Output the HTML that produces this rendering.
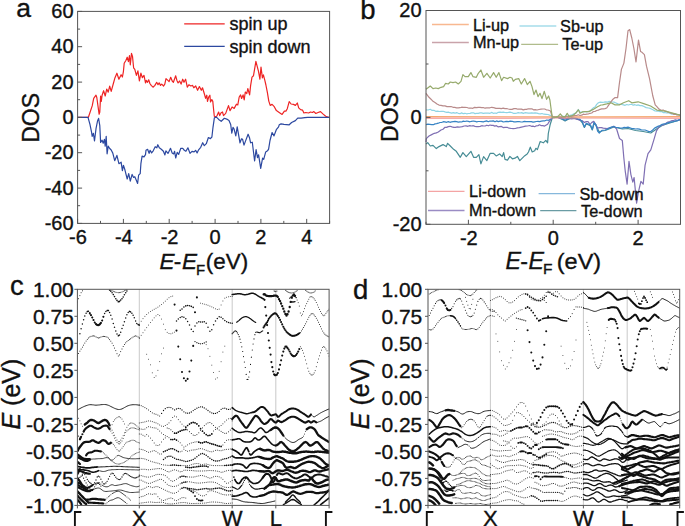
<!DOCTYPE html>
<html><head><meta charset="utf-8"><style>
html,body{margin:0;padding:0;background:#fff;}
svg{display:block;}
text{font-family:"Liberation Sans",sans-serif;fill:#111;stroke:#111;stroke-width:0.35px;}
</style></head><body>
<svg width="685" height="526" viewBox="0 0 685 526">
<defs><clipPath id="clipc"><rect x="77.4" y="289.3" width="251.7" height="216.1"/></clipPath><clipPath id="clipd"><rect x="428.0" y="289.3" width="251.7" height="216.1"/></clipPath></defs>
<rect width="685" height="526" fill="#fff"/>
<path d="M77.6 117.3 L88.4 117.3 L92.2 105.9 L93.7 98.3 L96 95.2 L96.8 97.5 L99.1 114.2 L99.8 112 L100.6 96 L101.3 101.3 L102.1 95.2 L103.6 90.7 L105.2 96 L106.7 89.1 L108.2 92.2 L109.7 86.1 L111.2 91.4 L113.5 83 L115 77.7 L116.9 73.2 L118.9 79.2 L121.1 74.7 L122.4 77 L123.4 71.6 L124.2 63.3 L126 60.2 L127.2 57.2 L128.4 61.7 L129.5 55.7 L130.3 64.8 L131.5 53.4 L132.5 56.4 L133.6 67.8 L134.8 69.3 L136.4 75.4 L137.9 70.9 L139.4 80.8 L140.9 73.2 L142.4 77.7 L144 75.4 L145.5 83 L146.2 80.4 L147.5 82.3 L148.7 79.8 L149.9 83.5 L151.2 85.4 L153 87.2 L154.9 85.4 L156.7 82.3 L158 84.7 L159.2 82.9 L160.5 85.4 L161.7 84.1 L163.6 86 L164.8 84.1 L166 78.6 L167.9 80.4 L169.1 81.6 L170.7 77.3 L172.2 81 L173.4 82.3 L175.7 75.8 L176.9 80.4 L178.1 82.9 L179.6 81 L181.1 84.1 L182.7 79.2 L184 82.3 L185.6 79.2 L187.3 87.2 L188.9 84.7 L190.8 86 L192.6 85.4 L193.8 87.8 L195.7 86 L197.6 90.3 L199.4 86.6 L201.3 90.3 L202.5 87.8 L204.4 94 L205.6 98.3 L206.8 95.2 L207.5 101.4 L208.7 97.1 L209.9 95.2 L210.5 102 L211.8 99.6 L212.8 101.4 L213.6 109.5 L214.3 116.3 L215.7 117 L217.1 115.6 L218.6 112 L219.7 115.6 L221.1 112.7 L222.5 112 L223.5 115.6 L225.7 113.4 L228.5 105.6 L230 110.6 L232.1 107 L234.2 108.4 L236.4 104.2 L237.8 104.9 L239.2 97 L240.6 94.9 L241.6 98.5 L243.1 94.9 L244.2 99.9 L245.3 92 L246.8 93.5 L247.8 88.5 L249.6 94.9 L250.6 85.6 L252 77.1 L253.5 75.7 L255.9 61.4 L257 65.7 L258.5 71.4 L259.9 79.2 L261 67.1 L262.4 77.8 L263.4 74.9 L264.9 80.6 L265.9 85 L267.4 92.6 L268.8 101.1 L270.2 105.4 L272.1 104.4 L274 106.3 L276.4 110.6 L279.2 112.5 L282.1 114.4 L284.4 111.1 L285.9 111.1 L287.3 108.7 L289.2 101.6 L291.1 104 L293.5 104.4 L295.4 105.4 L297.3 103 L298.7 107.8 L300.6 109.7 L302.5 110.1 L303.9 113 L305.8 112.5 L308.6 113 L310.5 112 L312.4 112.5 L313.9 111.6 L315.8 113.5 L318.1 112.5 L320.5 111.6 L322.9 113.9 L325.7 116.3 L328.6 117.3 L329.6 117.3" fill="none" stroke="#ee2424" stroke-width="1.2" stroke-linejoin="round"/>
<path d="M77.6 117.3 L88 117.3 L89.9 124.2 L91.5 131.8 L92.2 136.3 L93.4 133.3 L94.5 140.9 L96 128.7 L97.5 121.1 L98.6 118.4 L99.8 125.7 L100.6 142.4 L102.1 140.2 L103.2 143.2 L104.4 139.4 L105.2 146.2 L106.2 136.3 L107.1 153.8 L108.2 146.2 L109.7 148.5 L111.2 150 L112.8 153.1 L114.7 160.7 L116.9 155.4 L118.9 163.7 L121.1 162.2 L122.4 170.6 L123.4 165.3 L124.9 169.8 L127.2 179 L128.7 173.6 L130.3 181.2 L132.1 174.4 L133.6 177.4 L134.8 176.7 L136.4 180.5 L137.6 183.5 L138.6 175.2 L140.2 173.6 L140.9 163.7 L142.1 156.1 L144 156.9 L145.5 154.6 L146 150.3 L147.6 149.3 L149.1 153.4 L150.1 150.3 L151.6 152.9 L153.2 150.8 L155.2 146.7 L156.8 147.8 L157.8 144.7 L159.3 147.8 L161.3 149.3 L163.4 151.3 L164.9 154.9 L165.9 150.8 L168 153.4 L170.5 148.3 L172.1 152.9 L173.6 153.9 L174.6 151.3 L175.7 158 L177.2 152.4 L178.7 154.4 L180.8 148.3 L182.8 148.3 L184.3 150.3 L185.9 151.3 L187.9 147.8 L190 153.4 L192 151.3 L194.1 151.9 L195.6 150.3 L197.1 152.9 L198.6 149.8 L200.7 147.3 L202.7 142.7 L204.3 145.7 L206.3 143.7 L208.4 137.5 L210.4 138.6 L211.9 137 L213 127.3 L214.4 117.7 L216.4 117.1 L218.7 119.4 L221.2 121.3 L224.4 118.3 L226.7 119.1 L229 120.6 L230.7 124.5 L231.8 133.1 L233 127.4 L234.1 129.1 L235.8 135.9 L237.2 126.8 L238.3 133.1 L240 142.8 L241.5 138.8 L242.6 139.4 L244 145.1 L245.5 141.1 L248.1 134.2 L249.5 137.7 L250.6 142.8 L252.3 142.2 L254.6 161 L256.1 149.6 L257.5 157.6 L258.6 154.8 L260.7 168.4 L262.6 158.2 L263.7 159.3 L265.7 151.9 L267.5 150.8 L268.6 149.1 L270 140.5 L272.1 132.5 L274 135.9 L276.3 129.7 L278.6 126.8 L279.2 124.8 L281.1 123.9 L284 124.4 L289.2 124.8 L291.6 122.5 L295.4 120.6 L297.7 118.2 L301.1 118.2 L304.8 117.7 L307.7 117.3 L329.6 117.3" fill="none" stroke="#2c48a0" stroke-width="1.2" stroke-linejoin="round"/>
<rect x="77.6" y="11.4" width="252" height="212" fill="none" stroke="#555" stroke-width="1"/>
<line x1="77.6" y1="223.4" x2="82.1" y2="223.4" stroke="#555"/>
<line x1="77.6" y1="205.7" x2="80.1" y2="205.7" stroke="#555"/>
<line x1="77.6" y1="188.1" x2="82.1" y2="188.1" stroke="#555"/>
<line x1="77.6" y1="170.4" x2="80.1" y2="170.4" stroke="#555"/>
<line x1="77.6" y1="152.7" x2="82.1" y2="152.7" stroke="#555"/>
<line x1="77.6" y1="135.1" x2="80.1" y2="135.1" stroke="#555"/>
<line x1="77.6" y1="117.4" x2="82.1" y2="117.4" stroke="#555"/>
<line x1="77.6" y1="99.7" x2="80.1" y2="99.7" stroke="#555"/>
<line x1="77.6" y1="82.1" x2="82.1" y2="82.1" stroke="#555"/>
<line x1="77.6" y1="64.4" x2="80.1" y2="64.4" stroke="#555"/>
<line x1="77.6" y1="46.7" x2="82.1" y2="46.7" stroke="#555"/>
<line x1="77.6" y1="29.1" x2="80.1" y2="29.1" stroke="#555"/>
<line x1="77.6" y1="11.4" x2="82.1" y2="11.4" stroke="#555"/>
<line x1="77.6" y1="223.4" x2="77.6" y2="218.9" stroke="#555"/>
<line x1="100.5" y1="223.4" x2="100.5" y2="220.9" stroke="#555"/>
<line x1="123.4" y1="223.4" x2="123.4" y2="218.9" stroke="#555"/>
<line x1="146.3" y1="223.4" x2="146.3" y2="220.9" stroke="#555"/>
<line x1="169.2" y1="223.4" x2="169.2" y2="218.9" stroke="#555"/>
<line x1="192.1" y1="223.4" x2="192.1" y2="220.9" stroke="#555"/>
<line x1="215.1" y1="223.4" x2="215.1" y2="218.9" stroke="#555"/>
<line x1="238" y1="223.4" x2="238" y2="220.9" stroke="#555"/>
<line x1="260.9" y1="223.4" x2="260.9" y2="218.9" stroke="#555"/>
<line x1="283.8" y1="223.4" x2="283.8" y2="220.9" stroke="#555"/>
<line x1="306.7" y1="223.4" x2="306.7" y2="218.9" stroke="#555"/>
<line x1="329.6" y1="223.4" x2="329.6" y2="220.9" stroke="#555"/>
<text x="73.6" y="229.8" font-size="20" text-anchor="end" >-60</text>
<text x="73.6" y="194.5" font-size="20" text-anchor="end" >-40</text>
<text x="73.6" y="159.1" font-size="20" text-anchor="end" >-20</text>
<text x="73.6" y="123.8" font-size="20" text-anchor="end" >0</text>
<text x="73.6" y="88.5" font-size="20" text-anchor="end" >20</text>
<text x="73.6" y="53.1" font-size="20" text-anchor="end" >40</text>
<text x="73.6" y="17.8" font-size="20" text-anchor="end" >60</text>
<text x="78" y="244.2" font-size="20" text-anchor="middle" >-6</text>
<text x="123.8" y="244.2" font-size="20" text-anchor="middle" >-4</text>
<text x="169.6" y="244.2" font-size="20" text-anchor="middle" >-2</text>
<text x="215.1" y="244.2" font-size="20" text-anchor="middle" >0</text>
<text x="260.9" y="244.2" font-size="20" text-anchor="middle" >2</text>
<text x="306.7" y="244.2" font-size="20" text-anchor="middle" >4</text>
<text x="16.2" y="17.3" font-size="26.5" text-anchor="start" >a</text>
<text transform="translate(39.1,117.9) rotate(-90)" font-size="23" text-anchor="middle">DOS</text>
<text y="269" font-size="22.5"><tspan x="159.4" font-style="italic">E</tspan><tspan x="173.8">-</tspan><tspan x="182" font-style="italic">E</tspan></text><text x="196" y="274.5" font-size="15">F</text><text x="205.8" y="268.8" font-size="22" textLength="42.3" lengthAdjust="spacingAndGlyphs">(eV)</text>
<line x1="184.2" y1="23.9" x2="224.7" y2="23.9" stroke="#ee2424" stroke-width="1.2"/>
<line x1="184.2" y1="46.3" x2="224.7" y2="46.3" stroke="#2c48a0" stroke-width="1.2"/>
<text x="229.5" y="30.4" font-size="18" text-anchor="start" >spin up</text>
<text x="229.5" y="52.5" font-size="18" text-anchor="start" >spin down</text>
<path d="M426 144 L427.7 142.6 L430.3 146 L433 145.3 L436.3 148.6 L439 146.6 L443 144.6 L446.3 146.6 L447.6 143.3 L450.3 146 L453.6 149.3 L456.3 151.3 L460.3 157.3 L462.9 152.6 L466.3 156.6 L470.9 151.3 L473.6 157.3 L476.3 157.3 L478.9 154.6 L480.9 163.9 L483.6 156.6 L486.9 160.6 L490.2 153.3 L493.6 153.3 L496.2 155.9 L499.6 153.9 L502.2 156.6 L503.6 152.6 L505 159.4 L507.5 160.1 L509.9 156.4 L512.4 158.8 L514.9 158.2 L517.4 156.4 L519.8 160.7 L522.3 158.2 L524.8 155.7 L527.2 153.9 L528.5 152 L530.3 147.1 L532.2 152 L534.7 150.8 L535.9 148.3 L537.4 149.6 L540.2 141.5 L543.3 142.8 L545.8 140.3 L547.6 142.8 L548.3 133.5 L550.1 124.8 L552 118.7 L552.9 117.3 L558.1 117.5 L562.5 119.5 L565.1 121 L567.8 119.5 L571.3 118 L575.6 118.5 L580 120 L582.2 122.5 L584.4 127.5 L586.2 124 L588.8 125 L590.5 126 L592.3 130 L594 123.5 L595.8 125 L599.3 132 L601.9 131 L605 130.5 L609 129 L613.8 127 L618 128 L622.3 129 L628 128.5 L635.6 130.5 L643.2 131.5 L650.8 133 L656.5 129 L662.2 125.5 L669.8 123 L680.5 119.8" fill="none" stroke="#468c95" stroke-width="1.2" stroke-linejoin="round"/>
<path d="M426 142 L426.3 138.6 L429 136 L431.7 134.6 L434.3 133.3 L436.3 132.9 L438.3 132 L441 130 L443 129.2 L445 127.3 L446.6 127.4 L448.3 126.6 L450.1 126.3 L452 126.9 L453.8 127.4 L455.6 127.3 L457.3 126.9 L459 127.1 L460.6 126.9 L462.3 126.6 L464.2 126 L466 125.9 L467.9 126.3 L469.7 125.6 L471.6 126 L473.3 125.7 L475 126.4 L476.6 126.7 L478.3 126.6 L480.1 126.4 L481.8 125.7 L483.6 126 L485.2 126 L486.8 125.2 L488.4 125.8 L490 125 L491.6 125.3 L493.2 125.4 L494.8 126.1 L496.4 125.7 L498 126.8 L499.6 126.6 L501.4 126.4 L503.2 127.6 L505 127.3 L507.1 127.3 L509.1 128.2 L511.2 128.5 L513.3 128.6 L515.3 128.5 L517.4 127.9 L519.4 127.7 L521.5 127.1 L523.5 126.7 L525.6 126.1 L527.6 126 L529.7 125.5 L531.4 126.3 L533 126.1 L534.7 126.7 L536.3 125.8 L538 125.6 L539.6 124.8 L541.3 125.7 L542.9 125.7 L544.6 126.1 L547.6 124.2 L549.5 121.1 L552.6 117.4 L554.4 117.7 L556.2 117.1 L558 117.5 L559.8 118 L561.5 118 L563.3 118.5 L564.9 118.8 L566.6 118.5 L568.2 118.2 L569.9 118.6 L571.6 118.8 L573.2 118.6 L574.9 118.6 L576.6 119.2 L578.4 119.6 L580.1 120.4 L581.9 120.5 L584.4 122.5 L586.2 121.6 L588 121.5 L590 124.3 L591.9 122.4 L593.8 121.4 L595.7 124.5 L597.6 128.1 L599.5 127.7 L601.4 127.7 L603.3 128.1 L605.2 128.3 L607.1 128.6 L609 128.1 L611.4 127.3 L613.8 126.2 L616.6 129 L619.5 138.5 L622.3 140.4 L623.8 157.5 L625.2 170.8 L627.1 184.1 L629 161.3 L630.9 174.6 L632.8 182.2 L634.1 177.5 L636.6 203.1 L638.5 191.7 L640.9 181.3 L643.2 184.1 L645.1 165.1 L648 153.7 L650.8 149.9 L653.7 140.4 L656.5 130.9 L659.4 126.2 L661 125.4 L662.7 125.1 L664.4 124.5 L666 123.3 L667.9 122.1 L669.8 121.5 L671.7 120.7 L673.6 120.5 L675.3 119.8 L677 120.4 L678.8 120.2 L680.5 119.5" fill="none" stroke="#7f6fb3" stroke-width="1.2" stroke-linejoin="round"/>
<path d="M426 124.6 L427.9 124.2 L429.8 124.4 L431.7 124.6 L433.4 124.7 L435 123.9 L436.6 123.7 L438.3 123.2 L440 122.5 L441.6 122.5 L443.3 121.7 L445 121.9 L446.6 122.3 L448.3 121.6 L450 122.3 L451.6 121.9 L453.3 121.6 L455 121.4 L456.6 121.7 L458.3 122.2 L460 121.9 L461.6 122 L463.3 121.1 L465 121.5 L466.7 121 L468.3 121.4 L470 121.8 L471.6 121.3 L473.3 121 L475 121.3 L476.6 121.9 L478.3 121.5 L480 121.5 L481.6 121.7 L483.3 121.9 L485 121.3 L486.6 120.9 L488.3 121.7 L489.9 121 L491.6 121.2 L493.3 120.9 L495 121.8 L496.6 120.9 L498.3 121.6 L500 121.2 L501.6 121.1 L503.3 122 L505 121.7 L506.8 121.3 L508.5 121.6 L510.3 121.2 L512.1 121.3 L513.9 121.9 L515.6 121.9 L517.4 121.7 L519.2 121.5 L520.9 122 L522.7 121.8 L524.4 121.3 L526.2 121.6 L527.9 121.5 L529.7 121.7 L531.4 121.6 L533 122.1 L534.7 121.8 L536.3 121.5 L538 121.4 L539.6 121.7 L541.4 121.2 L543.2 120.8 L545 120.8 L546.8 120 L548.5 120.3 L550.5 119.2 L552.4 117.7 L554.3 117.3 L556.2 117.1 L558.1 117.3 L560.3 118.5 L562.5 119 L565.1 120.3 L567.8 119 L569.5 118.4 L571.3 117.7 L573.5 118.1 L575.6 118.1 L577.8 118.9 L580 119.4 L582.2 121.6 L584.4 126.9 L586.2 123.4 L588.8 124.3 L590.5 125.1 L592.3 129.5 L594 122.5 L595.8 124.3 L597.6 131 L599.3 133 L601.9 130.4 L605 130 L607 129.5 L609 128.1 L611.4 127.1 L613.8 126.5 L615.9 127.5 L618 127.5 L620.1 128 L622.3 128.1 L624.2 127.4 L626.1 127.6 L628 127.1 L629.9 127.8 L631.8 128.6 L633.7 128.7 L635.6 129 L637.5 128.9 L639.4 129.1 L641.3 129.9 L643.2 130 L645.1 130 L647 130.7 L648.9 131.6 L650.8 131.5 L652.7 130 L654.6 128.1 L656.5 127.1 L658.4 126.1 L660.3 125.6 L662.2 124.3 L664.1 123.9 L666 123.6 L667.9 122.8 L669.8 122.4 L671.6 121.9 L673.4 121.6 L675.1 121.1 L676.9 120.9 L678.7 119.9 L680.5 119.5" fill="none" stroke="#3783c4" stroke-width="1.2" stroke-linejoin="round"/>
<path d="M426 118.2 L552 118 L600 118 L680.5 118.2" fill="none" stroke="#f29090" stroke-width="1.2" stroke-linejoin="round"/>
<path d="M426 109.9 L428.1 110 L430.3 109.3 L432.1 110.4 L433.9 110.3 L435.7 111.3 L437.6 111.2 L439.4 111.5 L441.3 111.3 L443.1 111.3 L445 111.9 L446.7 112.3 L448.3 112.1 L450 112.7 L451.6 113.1 L453.3 112.7 L455 113.2 L456.6 112.6 L458.3 113.3 L460 113.7 L461.6 112.9 L463.3 113.7 L465 113.3 L466.6 113.8 L468.3 113.5 L470 113.3 L471.6 112.9 L473.3 112.8 L475 113.6 L476.6 113.4 L478.3 113.3 L480 112.9 L481.6 112.9 L483.3 113.3 L485 113.1 L486.6 113.1 L488.3 113.1 L490 113.3 L491.6 112.4 L493.3 113.3 L495 113 L496.7 113.3 L498.3 112.3 L500 112.1 L501.7 112.4 L503.3 112.2 L505 112.5 L506.7 112.6 L508.3 112.4 L510 112.1 L511.7 112.5 L513.3 113.3 L515 113.3 L516.7 113.1 L518.3 112.7 L520 113 L521.7 112.6 L523.3 113.4 L525 112.7 L526.7 112.9 L528.3 113.2 L530 113.2 L531.7 112.9 L533.4 113.2 L535.1 112.9 L536.9 113.2 L538.6 113.7 L540.3 113.9 L542 113.5 L544 114.2 L546 114.3 L548 114.5 L550.7 115.6 L552.6 117.3 L554.5 117.6 L556.3 116.5 L558.1 116.3 L560 116.5 L562 116.1 L564 116.5 L566 116 L568 116 L570 115.3 L572 114.8 L574 113.7 L576 112.8 L578.3 109.5 L580.5 112.5 L582.8 111.9 L585 111.5 L586.7 111.9 L588.3 111.4 L590 111.2 L591.7 109.5 L593.3 107.9 L595 107 L596.7 104.4 L598.4 102.8 L600.3 102.1 L602.1 102.3 L604 102.2 L605.7 101.9 L607.5 102.2 L609.2 101.4 L610.9 101.8 L612.6 102 L614.3 102.2 L616 103 L617.9 103.9 L619.8 104.3 L621.6 104.5 L623.5 104.9 L625.1 105.3 L626.8 104.5 L628.4 105 L630 104.5 L631.6 104.3 L633.2 105.2 L634.9 104.7 L636.5 105.3 L638.1 104.9 L640.1 105.6 L642 105.6 L644 106.5 L646.2 107.6 L648.5 108 L650.2 108.4 L651.9 109.2 L653.5 110.1 L655.2 111 L656.9 111.2 L658.5 111.1 L660.1 111.6 L661.8 111.6 L663.4 112.7 L665 112.5 L666.6 113 L668.2 112.6 L669.8 113.2 L671.4 114.1 L673 114 L674.9 113.7 L676.8 114.6 L678.6 114.7 L680.5 115" fill="none" stroke="#8ed4e4" stroke-width="1.2" stroke-linejoin="round"/>
<path d="M426 116.6 L552 116.8 L600 116.8 L680.5 116.6" fill="none" stroke="#f6a870" stroke-width="1.2" stroke-linejoin="round"/>
<path d="M426 93.3 L429 97.3 L431 99.2 L433 101.3 L435 102.5 L437 103.9 L439 105.1 L441 105.3 L443 105.8 L445 105.9 L447 106.6 L449 106.6 L451 106.5 L453 107.3 L454.8 107.4 L456.5 107.8 L458.3 107.9 L460 107.7 L461.6 107.2 L463.3 107.4 L465 107.3 L467 107.5 L469 108.2 L471 108 L472.8 108.3 L474.6 107.4 L476.5 107.7 L478.3 107.3 L480 107.3 L481.6 107.6 L483.3 107.5 L485 108.2 L486.6 107.8 L488.3 107.9 L490 107.8 L491.6 107.3 L493.7 107.7 L495.9 108.3 L498 108.3 L499.7 108.3 L501.4 108.7 L503.2 108.2 L504.9 108.6 L506.6 108.5 L508.3 109 L510 109.3 L512 109.4 L514 108.6 L516 108.6 L517.8 109.2 L519.6 109.1 L521.5 109.1 L523.3 109.9 L525 109.4 L526.6 109.4 L528.3 108.8 L530 108.8 L531.8 108.8 L533.5 109.8 L535.2 109.7 L537 110 L539 109.5 L541 109.2 L543 109 L544.7 109 L546.3 109.8 L548 110 L550.5 111 L552.3 117.2 L554.1 117.2 L556 117.5 L557.8 117.4 L559.6 117 L561.4 117.3 L563.2 116.8 L565 117.2 L566.7 116.5 L568.3 116.8 L570 116.4 L571.7 116.1 L573.3 115.8 L575 115.5 L576.7 115.5 L578.3 114.8 L580 115.5 L581.7 115.2 L583.3 114.2 L585 114.5 L586.7 114.1 L588.3 114 L590 113.3 L591.7 113 L593.4 111.5 L595 111.5 L596.7 110.5 L598.4 110.1 L600.1 109.3 L601.7 108.9 L603.4 108.9 L605 108.6 L606.7 108 L608.8 104.9 L610.9 101.8 L613 99.2 L615.1 97.6 L617.6 97.6 L619.3 84 L621.4 69.4 L623.9 63.1 L626 48.5 L628 30.7 L629.7 29.6 L631.8 38 L633.9 48.5 L636 62 L638.5 40.1 L640.6 51.6 L642.3 52.6 L644.4 54.7 L646.5 66.2 L649.6 78.8 L652.7 95.5 L655.2 104.9 L657.1 106.9 L659 109.1 L661.1 110.3 L663.2 110 L665.3 111.2 L667 111.7 L668.6 112.3 L670.3 113 L671.9 113.3 L673.6 114.3 L675.3 114.1 L677 114.9 L678.8 114.9 L680.5 115.4" fill="none" stroke="#b88a8a" stroke-width="1.2" stroke-linejoin="round"/>
<path d="M426 89.3 L427.7 88 L430.3 86 L433 88.6 L435.7 88 L438.3 88.6 L441 87.3 L443.6 86.6 L445.6 83.3 L448.3 84 L450.3 82 L453 82.6 L455.6 82 L458.3 84 L461 81.3 L462.9 74.6 L465 76.6 L468.3 76.6 L470.9 72.6 L472.9 76.6 L476.3 77.3 L478.3 73.3 L480.9 70 L483.6 77.3 L486.9 73.3 L490.2 78 L493.6 72.6 L496.2 77.3 L498.9 72.6 L501.6 80.6 L503.6 77.3 L507.5 78.6 L510 77.3 L512 78 L513.3 81.3 L515.3 79.3 L518.7 78.6 L521.3 84 L524.6 78.6 L527.3 84.6 L530 81.3 L532 86.6 L534 94.6 L536 90 L538 96.6 L540 93.3 L542 98.6 L544.3 91.3 L546.6 99.3 L548.6 96 L549.9 100 L551.3 110.6 L552.3 117.2 L555.3 117.2 L558.1 116.4 L560.3 113.8 L562.6 116.6 L565.3 116.6 L567.2 113.3 L569.2 116.6 L573.2 115.3 L575.6 113.3 L578.3 109.8 L580 113.3 L582.6 111.9 L584.4 111.6 L588.8 111.6 L593.2 109.4 L597.5 106.8 L601 105 L602.5 104.9 L606.7 103.9 L610.9 102.8 L615.1 104.9 L619.3 104.9 L623.5 102.8 L628.7 100.7 L631.8 102.8 L638.1 101.8 L644.4 103.9 L650.6 106 L656.9 110.1 L665.3 111.2 L673.6 113.3 L680.5 115.4" fill="none" stroke="#96aa6c" stroke-width="1.2" stroke-linejoin="round"/>
<rect x="426.0" y="10.5" width="254.5" height="213.8" fill="none" stroke="#555" stroke-width="1"/>
<line x1="426.0" y1="224.3" x2="430.5" y2="224.3" stroke="#555"/>
<line x1="426.0" y1="170.8" x2="428.5" y2="170.8" stroke="#555"/>
<line x1="426.0" y1="117.4" x2="430.5" y2="117.4" stroke="#555"/>
<line x1="426.0" y1="64" x2="428.5" y2="64" stroke="#555"/>
<line x1="426.0" y1="10.5" x2="430.5" y2="10.5" stroke="#555"/>
<line x1="426" y1="224.3" x2="426" y2="221.8" stroke="#555"/>
<line x1="468.4" y1="224.3" x2="468.4" y2="219.8" stroke="#555"/>
<line x1="510.8" y1="224.3" x2="510.8" y2="221.8" stroke="#555"/>
<line x1="553.2" y1="224.3" x2="553.2" y2="219.8" stroke="#555"/>
<line x1="595.7" y1="224.3" x2="595.7" y2="221.8" stroke="#555"/>
<line x1="638.1" y1="224.3" x2="638.1" y2="219.8" stroke="#555"/>
<line x1="680.5" y1="224.3" x2="680.5" y2="221.8" stroke="#555"/>
<text x="421.6" y="16.8" font-size="20" text-anchor="end" >20</text>
<text x="421.6" y="123.7" font-size="20" text-anchor="end" >0</text>
<text x="421.6" y="230.6" font-size="20" text-anchor="end" >-20</text>
<text x="468.8" y="244.5" font-size="20" text-anchor="middle" >-2</text>
<text x="553.2" y="244.5" font-size="20" text-anchor="middle" >0</text>
<text x="638.1" y="244.5" font-size="20" text-anchor="middle" >2</text>
<text x="360.3" y="18.8" font-size="27.5" text-anchor="start" >b</text>
<text transform="translate(397.9,117) rotate(-90)" font-size="23" text-anchor="middle">DOS</text>
<text y="268.6" font-size="23.2"><tspan x="505.5" font-style="italic">E</tspan><tspan x="520.2">-</tspan><tspan x="528.5" font-style="italic">E</tspan></text><text x="543" y="274.3" font-size="15.5">F</text><text x="556.8" y="268.6" font-size="22.5" textLength="44.4" lengthAdjust="spacingAndGlyphs">(eV)</text>
<line x1="432.0" y1="24.5" x2="468.8" y2="24.5" stroke="#f8b890" stroke-width="1.3"/>
<text x="472.9" y="30.8" font-size="16.3" text-anchor="start" >Li-up</text>
<line x1="432.0" y1="42.5" x2="468.8" y2="42.5" stroke="#c9a3aa" stroke-width="1.3"/>
<text x="472.9" y="48.3" font-size="16.3" text-anchor="start" >Mn-up</text>
<line x1="519.5" y1="26" x2="556.3" y2="26" stroke="#a6dcea" stroke-width="1.3"/>
<text x="560.1" y="31.6" font-size="16.3" text-anchor="start" >Sb-up</text>
<line x1="521.2" y1="44.3" x2="558.1" y2="44.3" stroke="#b0bc8c" stroke-width="1.3"/>
<text x="562.3" y="49.6" font-size="16.3" text-anchor="start" >Te-up</text>
<line x1="428" y1="191.4" x2="464.5" y2="191.4" stroke="#f4a4a4" stroke-width="1.3"/>
<text x="469.1" y="196.9" font-size="16.3" text-anchor="start" >Li-down</text>
<line x1="428" y1="210.5" x2="464.5" y2="210.5" stroke="#9a8cc4" stroke-width="1.3"/>
<text x="469.1" y="216.3" font-size="16.3" text-anchor="start" >Mn-down</text>
<line x1="538.6" y1="193.7" x2="575" y2="193.7" stroke="#86b8dc" stroke-width="1.3"/>
<text x="579.4" y="199.5" font-size="16.3" text-anchor="start" >Sb-down</text>
<line x1="540.2" y1="210.7" x2="576.4" y2="210.7" stroke="#6a9ca4" stroke-width="1.3"/>
<text x="581" y="216.8" font-size="16.3" text-anchor="start" >Te-down</text>
<line x1="139.3" y1="289.3" x2="139.3" y2="505.4" stroke="#bbb" stroke-width="0.8"/>
<line x1="232.2" y1="289.3" x2="232.2" y2="505.4" stroke="#bbb" stroke-width="0.8"/>
<line x1="275.8" y1="289.3" x2="275.8" y2="505.4" stroke="#bbb" stroke-width="0.8"/>
<g clip-path="url(#clipc)" fill="none" stroke="#111" stroke-linecap="round" stroke-linejoin="round">
<path d="M77.4 356h0M78.6 353.5h0M79.9 351.2h0M81.1 349.1h0M82.4 347.2h0M83.6 345.2h0M84.8 343.1h0M86.1 341.1h0M87.3 339.4h0M88.5 338h0M89.8 337h0M91 336.4h0M92.3 336h0M93.5 335.9h0M94.7 336.1h0M96 336.9h0M97.2 337.6h0M98.4 338h0M99.7 337.7h0M100.9 337.1h0M102.2 336.6h0M103.4 336.4h0M104.6 336.5h0M105.9 336.7h0M107.1 337.2h0M108.4 338.1h0M109.6 339.6h0M110.8 341.2h0M112.1 343.2h0M113.3 345.6h0M114.5 348.1h0M115.8 350.6h0M117 353.7h0M118.3 356h0M119.5 354.9h0M120.7 351.6h0M122 349h0M123.2 346.5h0M124.4 344.5h0M125.7 342.9h0M126.9 341.6h0M128.2 340.5h0M129.4 339.6h0M130.6 338.8h0M131.9 337.9h0M133.1 337h0M134.3 336.3h0M135.6 335.9h0M136.8 336.2h0M138.1 337h0M139.3 338h0" stroke-width="1.0"/>
<path d="M79.9 333.8h0M81.1 328.8h0M82.4 324h0M83.6 319.7h0M84.8 316.1h0M86.1 313.3h0M87.3 311.6 88.5 311.3M89.8 312.8h0M91 315h0M92.3 317.4h0M93.5 320.1h0M94.7 322.5h0M96 324.1h0M97.2 325 98.4 325.2 99.7 324.5M100.9 323h0M102.2 320.5h0M103.4 316.8h0M104.6 313.6h0M105.9 311.6h0M107.1 310.4 108.4 310.6M109.6 312.4h0M110.8 315.3h0M112.1 319h0M113.3 323.5h0M114.5 327.3h0M115.8 330.9h0M117 334.1h0M118.3 335.8 119.5 335M120.7 332.2h0M122 328.6h0M123.2 325.2h0M124.4 321.7h0M125.7 318h0M126.9 314.8h0M128.2 312.4h0M129.4 311.4 130.6 311.9M131.9 313.3h0M133.1 315.2h0M134.3 317.7h0M135.6 320.9h0M136.8 323.4h0M138.1 324.6 139.3 325.2" stroke-width="1.5"/>
<path d="M77.4 302h0M78.6 298.7h0M79.9 295.6h0M81.1 292.7h0M82.4 290.8h0" stroke-width="1.0"/>
<path d="M109.6 290.1h0M110.8 291.3h0M112.1 292.8h0M113.3 294.6h0M114.5 296.6h0M115.8 298.7h0M117 300.4h0M118.3 301.7 119.5 301.4M120.7 300.1h0M122 298.7h0M123.2 297h0M124.4 294.8h0M125.7 292.7h0M126.9 291h0" stroke-width="1.6"/>
<path d="M110.8 290.3h0M112.1 290.8h0M113.3 291.3h0M114.5 291.8h0M115.8 292.2h0M117 292.5h0M118.3 292.7h0M119.5 292.6h0M120.7 292.4h0M122 292h0M123.2 291.4h0M124.4 290.7h0M125.7 290.1h0M126.9 289.6h0" stroke-width="0.9"/>
<path d="M89.8 313.4h0M91 315.2h0M92.3 317.4h0M93.5 320.1h0M94.7 322.5h0M96 324.1 97.2 325 98.4 325.2 99.7 324.4 100.9 322.9M102.2 320.6h0M103.4 316.8h0" stroke-width="2.0"/>
<path d="M139.3 338.1h0M141.2 335.4h0M143 332.7h0M144.9 330.1h0M146.7 327.6h0M148.6 325.1h0M150.4 322.5h0M152.3 320.1h0M154.2 317.8h0M156 315.9h0M157.9 314.5h0M159.7 315.6h0M161.6 319.1h0M163.5 324.2h0M165.3 329.6h0M167.2 332.4h0M169 333.5h0M170.9 333.8h0M172.7 333.1h0M174.6 332.2h0" stroke-width="0.8"/>
<path d="M139.3 324.2h0M141.2 321.3h0M143 318.6h0M144.9 316.4h0M146.7 314.5h0M148.6 312.9h0M150.4 311.5h0M152.3 310.3h0M154.2 309.3h0M156 308.3h0M157.9 307.2h0M159.7 305.9h0M161.6 304.5h0M163.5 302.9h0M165.3 301.2h0M167.2 299.3h0M169 297.7h0M170.9 296.6h0M172.7 296.1h0" stroke-width="0.8"/>
<path d="M174.6 304.6h0M176.5 330.6h0M178.3 346.6h0M180.2 359.3h0M182 372h0M183.9 378.3h0M185.8 380.7h0M187.6 378.9h0M189.5 371.5h0M191.3 360.6h0M193.2 345.9h0M195 312.2h0M196.9 297.4h0" stroke-width="2.07"/>
<path d="M146.7 354.3h0M148.6 359.3h0M150.4 364.8h0M152.3 372.8h0M154.2 377.5h0M156 375.9h0M157.9 370.4h0M159.7 361.6h0M161.6 353.8h0M163.5 348.1h0" stroke-width="0.8"/>
<path d="M206.2 344.6h0M208 348.7h0M209.9 356.4h0M211.8 365.2h0M213.6 372.5h0M215.5 379.1h0M217.3 377.8h0M219.2 371.4h0M221.1 361.7h0M222.9 352.1h0M224.8 346.2h0" stroke-width="0.8"/>
<path d="M180.2 310.2h0M182 309h0M183.9 307h0M185.8 305.9h0M187.6 305.5h0M189.5 305.7h0M191.3 306.4h0M193.2 307.4h0" stroke-width="1.6"/>
<path d="M176.5 320.9h0M178.3 319h0M180.2 317.6h0M182 316.8h0M183.9 317.2h0M185.8 318.7h0M187.6 321.5h0M189.5 324.9h0M191.3 329.3h0M193.2 331.5h0M195 325.9h0M196.9 322.9h0M198.8 321.8h0M200.6 322.1h0M202.5 321.9h0M204.3 321.8h0M206.2 323.2h0M208 327.2h0M209.9 331.3h0M211.8 329.7h0M213.6 324.8h0M215.5 321.1h0M217.3 318.4h0M219.2 316.8h0M221.1 317.3h0M222.9 318.8h0M224.8 320.5h0M226.6 321.8h0M228.5 322.5h0M230.3 322.9h0M232.2 323.2h0" stroke-width="1.5"/>
<path d="M195 341.6h0M196.9 342.7h0M198.8 343.4h0M200.6 343.8h0M202.5 343.6h0M204.3 342.9h0M206.2 341.9h0" stroke-width="1.3"/>
<path d="M200.6 303.2h0M202.5 303.7h0M204.3 304.2h0M206.2 304.7h0M208 305.3h0M209.9 306.1h0M211.8 306.9h0M213.6 307.8h0M215.5 308.8h0M217.3 309.5h0M219.2 309.1h0M221.1 305h0M222.9 301h0M224.8 298.2h0M226.6 297.3h0M228.5 296.8h0M230.3 296.5h0M232.2 296.5h0" stroke-width="0.8"/>
<path d="M263.6 294.4h0M264.5 299.8h0M265.3 307.1h0M266.2 315.6h0M267.1 325.1h0M268 333h0M268.8 340.5h0M269.7 347.8h0M270.6 354.6h0M271.4 362.1h0M272.3 367.2h0M273.2 371.5h0M274.1 374.4h0M274.9 375.2h0M275.8 375.2h0M276.9 374.7h0M277.9 373h0M279 369.4h0M280.1 364.8h0M281.1 360.3h0M282.2 355.6h0M283.3 351.6h0M284.3 348.6h0M285.4 346.7h0M286.5 346.7h0M287.5 348h0M288.6 349.6h0M289.7 351.5h0M290.7 353.6h0M291.8 355.1h0M292.9 355.9h0M293.9 356.3h0M295 356h0M296.1 355h0M297.1 353.5h0M298.2 351.6h0M299.3 349.1h0" stroke-width="2.16"/>
<path d="M300.3 346.7h0M301.4 348.4h0M302.5 350.4h0M303.5 353.1h0M304.6 356.4h0M305.6 360h0M306.7 363.8h0M307.8 368.2h0M308.8 371.3h0M309.9 373.4h0M311 374.7h0M312 375.2h0M313.1 374.4h0M314.2 372.9h0M315.2 370.6h0M316.3 366.7h0M317.4 362.4h0M318.4 359h0M319.5 355.8h0M320.6 352.8h0M321.6 350.2h0M322.7 347.5h0M323.8 346.5h0M324.8 347.4h0M325.9 349h0M327 350.9h0M328 353.4h0M329.1 356.1h0" stroke-width="0.9"/>
<path d="M232.2 294.6 233.1 294.5 233.9 294.3 234.8 294.2 235.7 294 236.6 293.9 237.4 293.8 238.3 293.7 239.2 293.7 240 293.7 240.9 293.9 241.8 294.1 242.7 294.4 243.5 294.6 244.4 294.7 245.3 294.7 246.2 294.6 247 294.4 247.9 294.3 248.8 294.1 249.6 293.8 250.5 293.5 251.4 293.3 252.3 293.2 253.1 293.3 254 293.6 254.9 294 255.7 294.4 256.6 295 257.5 295.6 258.4 296.2 259.2 296.7 260.1 297.1 261 297.5 261.8 298 262.7 298.5 263.6 299" stroke-width="1.5"/>
<path d="M264.5 294.1 265.3 294.9 266.2 295.5 267.1 295.9 268 296 268.8 296.1 269.7 296.2 270.6 296.2 271.4 296.2 272.3 296 273.2 295.9 274.1 295.7 274.9 295.7 275.8 295.7 276.9 295.9 277.9 297" stroke-width="2.21"/>
<path d="M279 299.2h0M280.1 301.1h0M281.1 303.5h0M282.2 306.1h0M283.3 308.7h0M284.3 311.5h0M285.4 314h0M286.5 315.6h0M287.5 314.2h0M288.6 311.5h0M289.7 307h0M290.7 301.9h0M291.8 297.7h0M292.9 295.3h0M293.9 294.4h0M295 295.7h0" stroke-width="2.34"/>
<path d="M274.1 290.9h0M274.9 291.4h0M275.8 291.6h0M276.9 291.1h0" stroke-width="1.0"/>
<path d="M289.7 298.2h0M290.7 297.2h0M291.8 296.3h0M292.9 295.7h0M293.9 295.9h0M295 296.5h0M296.1 297.6h0" stroke-width="1.3"/>
<path d="M290.7 301.7 291.8 301.9 292.9 302 293.9 301.9 295 301.7" stroke-width="1.3"/>
<path d="M296.1 297.7h0M297.1 300.1h0M298.2 302.6h0M299.3 306.1h0M300.3 313h0M301.4 315.7h0M302.5 314.2h0M303.5 311.6h0M304.6 308.6h0M305.6 305.9h0M306.7 303.6h0M307.8 301.4h0M308.8 299.3h0M309.9 297.2h0M311 296.5h0M312 296.9h0M313.1 297.7h0M314.2 298.9h0M315.2 300.4h0M316.3 302.5h0M317.4 304.9h0M318.4 307.3h0M319.5 309.5h0M320.6 311.5h0M321.6 313.4h0M322.7 314.9h0M323.8 315.7h0M324.8 315.1h0M325.9 313.4h0M327 311.9h0M328 310.6h0M329.1 309.3h0" stroke-width="0.9"/>
<path d="M285.4 290.3h0M286.5 291.1h0M287.5 291.8h0M288.6 292.3h0M289.7 292.7h0M290.7 292.9h0M291.8 293h0M292.9 292.8h0M293.9 292.5h0M295 292h0M296.1 291.4h0M297.1 290.6h0" stroke-width="0.9"/>
<path d="M305.6 290.3h0M306.7 291.1h0M307.8 291.9h0M308.8 292.4h0M309.9 292.9h0M311 293h0M312 292.8h0M313.1 292.5h0M314.2 291.9h0M315.2 290.9h0" stroke-width="0.9"/>
<path d="M236.6 322.2 237.4 321.7 238.3 321.1 239.2 320.4 240 319.5 240.9 318.7 241.8 318 242.7 317.5 243.5 317.1 244.4 316.8 245.3 316.7 246.2 316.7 247 316.9 247.9 317.2 248.8 317.6 249.6 318.2 250.5 318.8 251.4 319.5 252.3 320.2 253.1 320.8 254 321.4 254.9 321.9 255.7 322.4" stroke-width="1.2"/>
<path d="M263.6 327.4h0M264.5 325.9h0M265.3 324.5h0M266.2 323.4h0M267.1 322.2h0M268 320.6h0M268.8 318.8h0M269.7 317.5h0M270.6 316.5h0M271.4 315.5h0M272.3 314.7h0M273.2 314.1h0M274.1 313.6h0M274.9 313.4h0M275.8 313.6h0M276.9 314.6h0M277.9 316.1h0M279 317.8h0M280.1 319.9h0M281.1 322.1h0M282.2 324.4h0M283.3 326.7h0M284.3 328.6h0M285.4 330.3h0M286.5 331.7h0M287.5 332.8h0M288.6 333.8h0M289.7 334.6h0M290.7 335.2h0M291.8 335.7h0M292.9 335.9h0M293.9 335.8h0M295 335.6h0M296.1 335.2h0M297.1 334.7h0M298.2 334.1h0M299.3 333.3h0" stroke-width="2.07"/>
<path d="M300.3 332.5h0M301.4 330.9h0M302.5 329.2h0M303.5 327.5h0M304.6 325.7h0M305.6 323.8h0M306.7 321.8h0M307.8 319.4h0M308.8 317.3h0M309.9 315.6h0M311 314.2h0M312 313.5h0M313.1 313.9h0M314.2 315.1h0M315.2 316.5h0M316.3 318.3h0M317.4 320.2h0M318.4 322.3h0M319.5 324.5h0M320.6 326.6h0M321.6 328.9h0M322.7 331.1h0M323.8 332.9h0M324.8 334.2h0M325.9 335.1h0M327 335.8h0M328 336.4h0M329.1 336.9h0" stroke-width="1.0"/>
<path d="M232.2 333.7h0M233.1 332.7h0M233.9 331.8h0M234.8 331.1h0M235.7 330.9h0M236.6 331.6h0M237.4 332.9h0M238.3 334.6h0M239.2 336.7h0M240 339.2h0M240.9 342.5h0M241.8 346.8h0M242.7 351.5h0M243.5 356.6h0M244.4 362h0M245.3 367.5h0M246.2 374.4h0M247 379.5h0M247.9 379.4h0M248.8 377h0M249.6 371.9h0M250.5 364.4h0M251.4 357.2h0M252.3 350h0M253.1 344h0M254 338.9h0M254.9 334.7h0M255.7 332.3h0M256.6 332h0M257.5 332.2h0M258.4 332.4h0M259.2 332.7h0M260.1 332.6h0M261 331.9h0M261.8 331.3h0M262.7 330.8h0" stroke-width="1.2"/>
<path d="M77.4 410 78.6 409.3 79.9 408.6 81.1 407.9 82.4 407.3 83.6 406.7 84.8 406.2 86.1 405.7 87.3 405.3 88.5 404.9 89.8 404.7 91 404.7 92.3 404.8 93.5 404.9 94.7 405.1 96 405.2 97.2 405.1 98.4 405 99.7 404.9 100.9 404.7 102.2 404.6 103.4 404.5 104.6 404.5 105.9 404.6 107.1 404.9 108.4 405.3 109.6 405.8 110.8 406.5 112.1 407.1 113.3 407.7 114.5 408.3 115.8 408.8 117 409.2 118.3 409.5 119.5 409.5 120.7 409.3 122 408.9 123.2 408.3 124.4 407.6 125.7 406.9 126.9 406.2 128.2 405.7 129.4 405.3 130.6 405 131.9 404.8 133.1 404.7 134.3 404.7 135.6 404.7 136.8 404.8 138.1 405 139.3 405.2" stroke-width="0.9"/>
<path d="M84.8 424.5 86.1 423.5 87.3 422.7 88.5 421.4 89.8 420.3 91 419.9 92.3 420 93.5 420.3 94.7 421 96 421.9 97.2 422.7 98.4 423.1 99.7 422.6 100.9 421.7 102.2 420.9 103.4 420.3 104.6 419.9 105.9 420.1 107.1 421 108.4 422.8 109.6 425.4" stroke-width="2.3"/>
<path d="M110.8 428h0M112.1 430.2h0M113.3 432.6h0M114.5 435.3h0M115.8 437.7h0M117 440h0M118.3 441.6h0M119.5 441.6h0M120.7 440.1h0M122 438.1h0M123.2 435.6h0M124.4 432.8h0M125.7 430.1h0M126.9 427.4h0M128.2 425.2h0M129.4 423.8h0M130.6 423.1h0M131.9 423h0M133.1 423.4h0M134.3 424.1h0M135.6 424.9h0M136.8 425.9h0M138.1 427.1h0M139.3 428.2h0" stroke-width="0.8"/>
<path d="M112.1 424.7h0M113.3 421.5h0M114.5 419.9h0M115.8 418.7h0M117 417.6h0M118.3 416.8h0M119.5 416.8h0M120.7 417.7h0M122 419.1h0M123.2 421.4h0M124.4 424h0" stroke-width="0.8"/>
<path d="M77.4 416h0M78.6 418.3h0M79.9 420.8h0M81.1 423.8h0M82.4 426.3h0" stroke-width="0.8"/>
<path d="M79.9 439.3 81.1 436.8M82.4 434.2h0M83.6 431.6 84.8 429.5 86.1 428.2 87.3 427.3 88.5 426.5 89.8 425.8 91 425.7 92.3 426.3 93.5 427.1 94.7 427.8 96 428.4 97.2 428.7 98.4 428.7 99.7 428.3 100.9 427.6 102.2 426.6 103.4 426 104.6 425.7 105.9 425.5 107.1 425.7 108.4 427.3 109.6 429.1" stroke-width="2.13"/>
<path d="M110.8 431.1h0M112.1 433.3h0M113.3 435.6h0M114.5 438.2h0M115.8 440.6h0M117 442.5h0M118.3 443.7h0M119.5 443.9h0M120.7 442.8h0M122 441h0M123.2 438.5h0M124.4 435.4h0M125.7 432.5h0M126.9 430.9h0M128.2 429.8h0M129.4 428.8h0M130.6 428.2h0M131.9 427.9h0M133.1 427.9h0M134.3 428.1h0M135.6 428.5h0M136.8 428.9h0M138.1 429.5h0M139.3 430h0" stroke-width="0.8"/>
<path d="M77.4 451.2 78.6 448.9 79.9 447 81.1 445.5 82.4 443.8 83.6 442.6 84.8 442.1 86.1 441.9 87.3 441.8 88.5 441.9 89.8 441.7 91 441 92.3 440.3 93.5 440.4 94.7 441.2 96 441.9 97.2 442.5 98.4 442.9 99.7 442.4 100.9 441.4 102.2 440.4 103.4 440.1 104.6 440.5 105.9 441.3 107.1 442.8 108.4 443.9 109.6 443.6 110.8 442.8" stroke-width="2.3"/>
<path d="M112.1 443h0M113.3 444.4h0M114.5 445.9h0M115.8 447.7h0M117 449.6h0M118.3 450.9h0M119.5 451.1h0M120.7 449.9h0M122 448.2h0M123.2 446.6h0M124.4 444.8h0M125.7 443.2h0M126.9 442.2h0M128.2 441.6h0M129.4 441.2h0M130.6 440.8h0M131.9 440.3h0M133.1 440.2h0M134.3 440.5h0M135.6 441.2h0M136.8 441.9h0M138.1 442.5h0M139.3 443h0" stroke-width="0.8"/>
<path d="M86.1 455.4 87.3 453.7 88.5 452.7 89.8 452.5 91 452.4 92.3 452 93.5 451.4 94.7 450.8 96 450.7 97.2 450.8 98.4 451 99.7 451.2 100.9 451.4" stroke-width="2.13"/>
<path d="M102.2 451.7h0M103.4 452.8h0M104.6 453.9h0M105.9 455h0M107.1 456.2h0M108.4 457.5h0M109.6 458.8h0M110.8 460.2h0M112.1 461.4h0M113.3 462.2h0M114.5 462.9h0M115.8 463.5h0M117 463.9h0M118.3 464.1h0M119.5 464h0M120.7 463.7h0M122 463.2h0M123.2 462.7h0M124.4 462.1h0M125.7 461.4h0M126.9 460.6h0M128.2 459.6h0M129.4 458.4h0M130.6 457.1h0M131.9 455.9h0M133.1 454.9h0M134.3 454.2h0M135.6 453.6h0M136.8 453h0M138.1 452.5h0M139.3 452h0" stroke-width="0.8"/>
<path d="M77.4 454.3 78.6 455.3 79.9 456.2 81.1 457.1 82.4 458.1 83.6 458.7 84.8 459 86.1 459.1 87.3 459.2 88.5 459.2 89.8 459.2" stroke-width="2.3"/>
<path d="M91 459.2 92.3 459.1 93.5 459 94.7 459 96 458.9 97.2 458.8 98.4 458.7 99.7 458.7 100.9 458.6 102.2 458.6 103.4 458.4 104.6 458 105.9 457.7 107.1 457.6 108.4 458.1 109.6 459.1 110.8 460 112.1 460.3 113.3 459.6M114.5 458.4h0M115.8 457.2h0M117 455.9 118.3 455.4 119.5 455.7 120.7 456.3 122 456.9 123.2 457.5 124.4 457.8 125.7 458.1 126.9 458.3 128.2 458.5 129.4 458.6 130.6 458.7 131.9 458.8 133.1 458.8 134.3 458.8 135.6 458.8 136.8 458.7 138.1 458.7 139.3 458.7" stroke-width="0.8"/>
<path d="M77.4 466.3 78.6 466.6 79.9 466.8 81.1 467.1 82.4 467.3 83.6 467.5 84.8 467.7 86.1 467.8 87.3 467.9 88.5 467.9 89.8 467.8 91 467.6 92.3 467.4 93.5 467.3 94.7 467.2 96 467.1 97.2 467" stroke-width="1.8"/>
<path d="M98.4 467 99.7 467 100.9 466.9 102.2 466.9 103.4 466.8 104.6 466.8 105.9 466.7 107.1 466.6 108.4 466.6 109.6 466.5 110.8 466.4 112.1 466.4 113.3 466.3 114.5 466.3 115.8 466.3 117 466.3 118.3 466.4 119.5 466.4 120.7 466.5 122 466.6 123.2 466.7 124.4 466.7 125.7 466.8 126.9 466.8 128.2 466.9 129.4 466.9 130.6 467 131.9 467 133.1 467.1 134.3 467.1 135.6 467.2 136.8 467.2 138.1 467.3 139.3 467.3" stroke-width="1.0"/>
<path d="M77.4 469.3 78.6 469.4 79.9 469.5 81.1 469.7 82.4 469.8 83.6 469.9 84.8 470.1 86.1 470.3 87.3 470.5 88.5 470.8 89.8 471.3 91 471.7 92.3 472.1 93.5 472.2 94.7 472 96 471.6 97.2 471.2 98.4 470.7" stroke-width="1.64"/>
<path d="M99.7 470.8 100.9 471.1 102.2 471.4 103.4 471.5 104.6 471.4 105.9 471.1 107.1 470.6 108.4 470.2 109.6 470 110.8 469.9 112.1 469.7 113.3 469.7 114.5 469.6 115.8 469.6 117 469.5 118.3 469.5 119.5 469.5 120.7 469.5 122 469.5 123.2 469.5 124.4 469.6 125.7 469.6 126.9 469.6 128.2 469.7 129.4 469.7 130.6 469.7 131.9 469.8 133.1 469.8 134.3 469.8 135.6 469.9 136.8 469.9 138.1 470 139.3 470" stroke-width="0.8"/>
<path d="M79.9 477.3h0M81.1 476.2h0M82.4 474.2h0M83.6 472.8h0M84.8 474.6h0M86.1 477.1h0M87.3 479.5h0M88.5 481.2h0M89.8 482.5h0M91 483.5h0M92.3 484.6h0M93.5 484.5h0M94.7 482.6h0M96 480h0M97.2 477h0M98.4 476.2h0M99.7 476.9h0M100.9 479.2h0M102.2 481.9h0M103.4 483.8h0M104.6 483.9h0M105.9 482.9h0M107.1 481.3h0M108.4 479h0M109.6 476.3h0M110.8 474.1h0M112.1 473.2h0M113.3 473.7h0M114.5 475.4h0M115.8 477.2h0M117 478.6h0M118.3 479.3h0M119.5 479.6h0M120.7 478.9h0M122 477h0M123.2 474.9h0M124.4 473.7h0M125.7 473.4h0M126.9 473.9h0M128.2 474.8h0M129.4 475.7h0M130.6 476.3h0M131.9 477h0M133.1 477.6h0M134.3 477.9h0M135.6 477.9h0M136.8 477.5h0M138.1 476.8h0M139.3 476h0" stroke-width="1.3"/>
<path d="M77.4 482.5 78.6 483.1 79.9 483.6 81.1 484.3 82.4 485.1 83.6 485.9 84.8 486.8 86.1 487.6 87.3 488 88.5 487.6 89.8 486.9 91 486.2 92.3 485.4" stroke-width="2.13"/>
<path d="M93.5 484.6 94.7 483.9 96 483.3 97.2 482.7 98.4 482.5 99.7 482.9M100.9 484h0M102.2 485.2 103.4 486 104.6 486.5 105.9 486.8 107.1 486.8 108.4 486.5 109.6 485.7 110.8 485 112.1 484.7 113.3 485 114.5 485.5 115.8 485.5 117 485.3 118.3 485.1 119.5 484.8 120.7 484.6 122 484.3 123.2 483.9 124.4 483.7 125.7 483.6 126.9 483.8 128.2 484.3 129.4 484.9 130.6 485.4 131.9 485.8 133.1 486.1 134.3 486.4 135.6 486.7 136.8 486.8 138.1 486.6 139.3 486" stroke-width="0.8"/>
<path d="M77.4 486.8 78.6 487.5 79.9 488.2 81.1 488.9 82.4 489.6 83.6 490.1 84.8 490.6 86.1 491 87.3 491.2 88.5 491.1 89.8 490.8 91 490.3 92.3 489.9" stroke-width="2.13"/>
<path d="M93.5 489.4 94.7 488.9 96 488.4 97.2 488.1 98.4 488 99.7 488.3 100.9 489.1 102.2 490.1 103.4 490.9 104.6 491.3 105.9 491.5 107.1 491.4 108.4 491.3 109.6 491.2 110.8 491.1 112.1 491 113.3 490.8 114.5 490.6 115.8 490.5 117 490.3 118.3 490.1 119.5 490 120.7 490.1 122 490.3 123.2 490.7 124.4 491.1 125.7 491.5 126.9 491.8 128.2 492.1 129.4 492.4 130.6 492.5 131.9 492.5 133.1 492.5 134.3 492.4 135.6 492.3 136.8 492.2 138.1 492.1 139.3 492" stroke-width="0.8"/>
<path d="M77.4 491.2 78.6 492.6 79.9 493.9 81.1 495.3 82.4 496.6 83.6 497.9 84.8 499 86.1 500.2 87.3 501.4 88.5 502.7" stroke-width="2.3"/>
<path d="M86.1 499.8 87.3 499.7 88.5 499.6 89.8 499.4 91 499.1 92.3 498.9 93.5 498.8 94.7 498.9 96 499 97.2 499.1 98.4 499.3 99.7 499.4 100.9 499.5 102.2 499.6 103.4 499.7 104.6 499.8" stroke-width="2.3"/>
<path d="M105.9 503.8h0M107.1 502.7h0M108.4 501.6 109.6 500.7 110.8 500.2 112.1 500 113.3 499.6 114.5 498.9 115.8 498.3 117 497.8 118.3 497.7 119.5 498.1 120.7 498.8 122 499.8 123.2 500.7 124.4 501.6 125.7 502.6M126.9 503.6h0" stroke-width="0.8"/>
<path d="M105.9 499.1h0M107.1 497.9h0M108.4 496.8 109.6 495.8M110.8 494.8h0M112.1 493.7 113.3 493 114.5 492.3 115.8 491.7 117 491.3 118.3 491.2 119.5 491.6 120.7 492.3 122 493.2 123.2 494.1 124.4 495 125.7 496M126.9 497h0M128.2 498.1h0M129.4 499.1h0M130.6 500.2h0" stroke-width="0.8"/>
<path d="M77.4 495.5 78.6 497 79.9 498.4 81.1 499.7 82.4 500.9 83.6 502 84.8 503.1 86.1 504" stroke-width="2.3"/>
<path d="M77.4 499.8 78.6 501.1 79.9 502.6 81.1 504.1" stroke-width="2.3"/>
<path d="M77.4 474 78.6 471.7 79.9 469.3" stroke-width="2.3"/>
<path d="M77.4 478 78.6 479.8 79.9 481.5 81.1 483.3 82.4 485.9" stroke-width="2.3"/>
<path d="M77.4 462 78.6 462.8 79.9 464" stroke-width="2.3"/>
<path d="M77.4 433h0M78.6 436.1h0M79.9 439.3h0" stroke-width="1.2"/>
<path d="M77.4 469.9 78.6 470.4 79.9 470.9 81.1 471.3 82.4 471.8 83.6 472.3 84.8 472.8 86.1 473.1 87.3 473.4 88.5 473.6 89.8 473.8" stroke-width="2.13"/>
<path d="M77.4 484.7 78.6 485.4 79.9 486.1 81.1 486.8 82.4 487.4 83.6 488 84.8 488.7 86.1 489.4 87.3 490.1 88.5 490.8 89.8 491.2" stroke-width="2.13"/>
<path d="M89.8 502.6 91 502.7 92.3 502.8 93.5 502.9 94.7 502.9 96 503 97.2 503 98.4 503.1 99.7 503.2 100.9 503.3 102.2 503.4 103.4 503.5" stroke-width="2.13"/>
<path d="M82.4 475.6h0M83.6 478.2h0M84.8 480.7h0M86.1 482.9h0M87.3 485h0M88.5 487.2h0M89.8 488.8h0M91 490.1h0M92.3 490.4h0M93.5 489h0M94.7 486.8h0M96 484.7h0M97.2 483.5h0M98.4 483.4h0M99.7 484.4h0M100.9 486.1h0" stroke-width="1.2"/>
<path d="M77.4 457 78.6 457.7 79.9 458.4 81.1 459.1 82.4 459.6 83.6 460.2 84.8 460.7 86.1 461 87.3 461 88.5 460.5 89.8 459.8" stroke-width="2.13"/>
<path d="M139.3 405h0M141.2 405.7h0M143 406.6h0M144.9 407.6h0M146.7 408.7h0M148.6 410h0M150.4 411.5h0M152.3 412.9h0M154.2 413.8h0M156 414.3h0M157.9 415.1h0M159.7 416.1h0" stroke-width="1.0"/>
<path d="M161.6 413.4h0M163.5 410.5h0M165.3 408.7h0M167.2 407.6h0M169 407.3h0M170.9 407.6h0M172.7 408.8h0M174.6 409.9h0M176.5 409h0M178.3 408.4h0M180.2 408.7h0M182 410h0M183.9 411.8h0M185.8 412.9h0M187.6 413.2h0M189.5 413h0M191.3 412h0M193.2 410.6h0M195 409.4h0M196.9 408.2h0M198.8 407.3h0M200.6 406.8h0M202.5 407h0M204.3 407.9h0M206.2 409.1h0M208 410.5h0M209.9 411.9h0M211.8 412.9h0M213.6 413.5h0M215.5 413.4h0M217.3 412.7h0M219.2 411.4h0M221.1 409.3h0M222.9 408.3h0M224.8 408.2h0M226.6 409h0M228.5 409.4h0M230.3 409.1h0M232.2 408.6h0" stroke-width="1.3"/>
<path d="M139.3 423h0M141.2 422.6h0M143 422.3h0M144.9 421.9h0M146.7 421.3h0M148.6 420.9h0M150.4 421.1h0M152.3 421.6h0M154.2 422.3h0M156 422.9h0M157.9 423.8h0M159.7 425h0M161.6 426.1h0M163.5 426.4h0M165.3 425.5h0M167.2 424.4h0M169 422.9h0M170.9 420.6h0M172.7 417.5h0M174.6 416.1h0M176.5 416.9h0M178.3 419.6h0M180.2 421.9h0M182 424.2h0M183.9 426.1h0M185.8 427.2h0M187.6 425.5h0M189.5 424.1h0M191.3 422.9h0M193.2 422.4h0M195 422.8h0M196.9 423.9h0M198.8 425.8h0M200.6 428.7h0M202.5 431.2h0M204.3 433h0M206.2 434.6h0M208 435.6h0M209.9 435.3h0M211.8 433.8h0M213.6 431h0M215.5 429.5h0M217.3 428.1h0M219.2 426.7h0M221.1 425.5h0M222.9 423.8h0M224.8 421.9h0M226.6 420.1h0M228.5 418.8h0M230.3 418.4h0M232.2 420.9h0" stroke-width="0.9"/>
<path d="M185.8 427.2h0M187.6 425.5h0M189.5 424.1h0M191.3 422.9h0M193.2 422.4h0M195 422.8h0M196.9 423.9h0M198.8 425.8h0M200.6 428.7h0M202.5 431.2h0M204.3 433h0M206.2 434.6h0M208 435.6h0M209.9 435.3h0M211.8 433.9h0" stroke-width="1.7"/>
<path d="M139.3 428.8h0M141.2 429.1h0M143 429.4h0M144.9 429.1h0M146.7 427.7h0M148.6 426.7h0M150.4 427h0M152.3 427.6h0M154.2 427.9h0M156 428.1h0M157.9 429.3h0M159.7 431.1h0M161.6 433h0M163.5 434.5h0M165.3 435.7h0M167.2 436.5h0M169 437.7h0M170.9 439.4h0M172.7 439.7h0M174.6 439.2h0M176.5 440.1h0M178.3 441.3h0M180.2 442.8h0M182 445.2h0M183.9 447.1h0M185.8 446.2h0M187.6 444.9h0M189.5 443.8h0M191.3 443h0M193.2 442.5h0M195 442h0M196.9 441.8h0M198.8 442h0M200.6 442.7h0M202.5 442.8h0M204.3 442.1h0M206.2 441.8h0M208 442.5h0M209.9 443.3h0M211.8 443.9h0M213.6 444.3h0M215.5 444.9h0M217.3 445.6h0M219.2 446.2h0M221.1 446.6h0M222.9 445h0M224.8 442.5h0M226.6 440.4h0M228.5 439.8h0M230.3 439.7h0M232.2 439.8h0" stroke-width="0.9"/>
<path d="M170.9 439.5h0M172.7 439.5h0M174.6 439.2h0M176.5 440.1h0" stroke-width="1.7"/>
<path d="M198.8 442.2h0M200.6 442.8h0M202.5 442.8h0M204.3 442.1h0M206.2 441.8h0M208 442.5h0M209.9 443.3h0M211.8 443.9h0M213.6 444.3h0M215.5 444.9h0M217.3 445.6h0M219.2 446.2h0M221.1 446.4h0" stroke-width="1.7"/>
<path d="M167.2 428h0M169 428.6h0M170.9 429.8h0M172.7 431.6h0M174.6 433.3h0M176.5 433.2h0M178.3 432.1h0M180.2 431.2h0M182 430.3h0M183.9 429.8h0M185.8 429.3h0M187.6 429.9h0M189.5 431.7h0M191.3 433.5h0M193.2 435.1h0M195 435.5h0M196.9 434.6h0M198.8 432.8h0M200.6 430.4h0M202.5 427.9h0M204.3 425.6h0M206.2 424h0M208 422.9h0M209.9 422.5h0M211.8 423.7h0M213.6 425.5h0M215.5 427.4h0M217.3 428.9h0M219.2 430.1h0M221.1 431.4h0M222.9 432.5h0M224.8 433.4h0M226.6 433.2h0M228.5 431.8h0M230.3 430.1h0M232.2 428.2h0" stroke-width="1.0"/>
<path d="M174.6 433.2h0M176.5 433.2h0M178.3 432.1h0M180.2 431.2h0M182 430.3h0M183.9 429.8h0M185.8 429.4h0" stroke-width="1.7"/>
<path d="M139.3 434h0M141.2 434.2h0M143 435.3h0M144.9 436.2h0M146.7 434.6h0M148.6 436.1h0M150.4 438.1h0M152.3 440.4h0M154.2 443h0M156 445.2h0M157.9 445.5h0M159.7 444.8h0M161.6 442h0M163.5 439.3h0M165.3 437.9h0" stroke-width="0.9"/>
<path d="M139.3 449h0M141.2 449.4h0M143 449.8h0M144.9 450.5h0M146.7 451.5h0M148.6 452.3h0M150.4 451.8h0M152.3 451.1h0M154.2 450.6h0M156 451.4h0M157.9 452.8h0M159.7 454h0M161.6 454h0M163.5 451.6h0M165.3 451h0M167.2 450.2h0M169 449.3h0M170.9 448.7h0M172.7 448.7h0M174.6 449.6h0M176.5 450.6h0M178.3 451.7h0M180.2 451.8h0M182 451.2h0M183.9 449.2h0M185.8 450.5h0M187.6 451.3h0M189.5 450.8h0M191.3 450.2h0M193.2 450h0M195 449.8h0M196.9 449.4h0M198.8 448.8h0M200.6 448.6h0M202.5 448.9h0M204.3 449.6h0M206.2 450.3h0M208 451h0M209.9 451.6h0M211.8 451.8h0M213.6 451.2h0M215.5 450.4h0M217.3 450.2h0M219.2 450.6h0M221.1 450.7h0M222.9 450.2h0M224.8 449.7h0M226.6 449.4h0M228.5 449.3h0M230.3 449h0M232.2 448.6h0" stroke-width="0.9"/>
<path d="M163.5 451.7h0M165.3 451h0M167.2 450.2h0M169 449.3h0M170.9 448.7h0M172.7 448.7h0M174.6 449.6h0M176.5 450.6h0M178.3 451.6h0" stroke-width="1.6"/>
<path d="M139.3 458.3h0M141.2 458.4h0M143 458.6h0M144.9 459h0M146.7 459.7h0M148.6 460.4h0M150.4 461.2h0M152.3 461.8h0M154.2 462.3h0M156 462.8h0M157.9 463.2h0M159.7 463.8h0M161.6 464.5h0M163.5 464.9h0M165.3 465.1h0M167.2 465.3h0M169 465.4h0M170.9 465.3h0M172.7 465.1h0M174.6 465.1h0M176.5 465.3h0M178.3 465.4h0M180.2 465.5h0M182 465.6h0M183.9 465.6h0M185.8 465.6h0M187.6 465.6h0M189.5 465.4h0M191.3 464.7h0M193.2 464.1h0M195 463.7h0M196.9 463.5h0M198.8 463.7h0M200.6 464.4h0M202.5 464.6h0M204.3 464.2h0M206.2 464h0M208 464.5h0M209.9 465.1h0M211.8 465.4h0M213.6 465.6h0M215.5 465.6h0M217.3 465.6h0M219.2 465.6h0M221.1 465.6h0M222.9 465.6h0M224.8 465.5h0M226.6 465.4h0M228.5 465.3h0M230.3 465.1h0M232.2 465h0" stroke-width="0.9"/>
<path d="M170.9 465.3h0M172.7 465.1h0M174.6 465.1h0M176.5 465.3h0M178.3 465.4h0M180.2 465.5h0" stroke-width="1.5"/>
<path d="M224.8 465.5h0M226.6 465.4h0M228.5 465.3h0M230.3 465.1h0M232.2 465h0" stroke-width="1.6"/>
<path d="M163.5 459.5h0M165.3 457.9h0M167.2 456.8h0M169 456.2h0M170.9 456.3h0M172.7 457.3h0M174.6 458.3h0M176.5 459.2h0M178.3 459.6h0M180.2 459.9h0M182 460.6h0M183.9 461.1h0M185.8 461.4h0M187.6 461.3h0M189.5 460.8h0M191.3 460.2h0M193.2 459.4h0M195 458.2h0M196.9 456.7h0M198.8 455.3h0M200.6 454h0M202.5 453.6h0M204.3 454.2h0M206.2 455.3h0M208 456.7h0M209.9 458.2h0M211.8 459.5h0M213.6 460.6h0M215.5 461.1h0M217.3 461.1h0M219.2 460.7h0M221.1 460h0M222.9 459.2h0M224.8 458.8h0M226.6 458.4h0M228.5 457.7h0M230.3 457h0M232.2 456.3h0" stroke-width="1.5"/>
<path d="M185.8 467.1h0M187.6 467.3h0M189.5 467.6h0M191.3 467.6h0M193.2 467.2h0M195 467h0M196.9 466.7h0M198.8 466.4h0M200.6 466.2h0M202.5 466.1h0M204.3 466h0M206.2 466.2h0M208 466.8h0" stroke-width="1.7"/>
<path d="M139.3 469.3h0M141.2 469.3h0M143 469.3h0M144.9 469.3h0M146.7 469.6h0M148.6 469.8h0M150.4 469.6h0M152.3 469.3h0M154.2 469.1h0M156 468.8h0M157.9 468.6h0M159.7 468.6h0M161.6 468.8h0M163.5 469.5h0M165.3 470.4h0M167.2 471.5h0M169 471.9h0M170.9 471.1h0M172.7 470.3h0M174.6 469.8h0M176.5 470.3h0M178.3 471h0M180.2 471.8h0M182 471.5h0M183.9 470.3h0M185.8 470.2h0M187.6 470.3h0M189.5 470.4h0M191.3 470.5h0M193.2 470.7h0M195 470.9h0M196.9 471h0M198.8 471h0M200.6 471h0M202.5 471h0M204.3 470.9h0M206.2 470.8h0M208 470.6h0M209.9 470.5h0M211.8 470.6h0M213.6 470.7h0M215.5 470.9h0M217.3 471.2h0M219.2 471.6h0M221.1 472.3h0M222.9 472.1h0M224.8 471.4h0M226.6 470.8h0M228.5 470.4h0M230.3 470.3h0M232.2 470.5h0" stroke-width="0.9"/>
<path d="M139.3 475h0M141.2 475.6h0M143 476.2h0M144.9 476.7h0M146.7 477h0M148.6 477.1h0M150.4 476.8h0M152.3 476.2h0M154.2 475.5h0M156 474.7h0M157.9 474.4h0M159.7 474.4h0M161.6 474.6h0M163.5 474.9h0M165.3 475.6h0M167.2 477.2h0M169 478.9h0M170.9 480.6h0M172.7 481.3h0M174.6 480.6h0M176.5 479.3h0M178.3 478.1h0M180.2 476.9h0M182 476.3h0M183.9 476.2h0M185.8 476.7h0M187.6 476.9h0M189.5 477h0M191.3 477.1h0M193.2 477.1h0M195 476.8h0M196.9 476.3h0M198.8 475.9h0M200.6 475.5h0M202.5 475.6h0M204.3 476.1h0M206.2 476.7h0M208 477.6h0M209.9 478.2h0M211.8 477.7h0M213.6 476.8h0M215.5 476.4h0M217.3 476.4h0M219.2 476.9h0M221.1 477.9h0M222.9 479.4h0M224.8 481.6h0M226.6 483.3h0M228.5 483h0M230.3 481.7h0M232.2 480.5h0" stroke-width="0.9"/>
<path d="M180.2 477h0M182 476.3h0M183.9 476.2h0M185.8 476.7h0" stroke-width="1.6"/>
<path d="M139.3 480h0M141.2 480.2h0M143 481.2h0M144.9 482.1h0M146.7 482.9h0M148.6 483.4h0M150.4 483.2h0M152.3 482.4h0M154.2 481.6h0M156 480.9h0M157.9 480.2h0M159.7 479.4h0M161.6 479.4h0M163.5 480.7h0M165.3 482.4h0M167.2 484.3h0M169 485.5h0M170.9 486.1h0M172.7 486.5h0M174.6 486.4h0M176.5 486h0M178.3 485.2h0M180.2 483.8h0M182 482.9h0M183.9 482.3h0M185.8 482h0M187.6 481.8h0M189.5 481.8h0M191.3 482.1h0M193.2 482.5h0M195 482.8h0M196.9 483h0M198.8 483.1h0M200.6 483h0M202.5 482.8h0M204.3 482.6h0M206.2 482.4h0M208 482.1h0M209.9 482h0M211.8 482h0M213.6 482.2h0M215.5 482.6h0M217.3 483.4h0M219.2 484.6h0M221.1 485.7h0M222.9 486.6h0M224.8 487.2h0M226.6 487.4h0M228.5 487.5h0M230.3 487.3h0M232.2 487h0" stroke-width="0.9"/>
<path d="M182 483h0M183.9 482.3h0M185.8 482.1h0" stroke-width="1.6"/>
<path d="M139.3 490h0M141.2 489.7h0M143 489.1h0M144.9 488.3h0M146.7 487.2h0M148.6 486.5h0M150.4 486.9h0M152.3 487.6h0M154.2 487.2h0M156 486.6h0M157.9 486.7h0M159.7 487.5h0M161.6 488.4h0M163.5 489.3h0M165.3 490.3h0M167.2 491.2h0M169 491.9h0M170.9 492.7h0M172.7 493.2h0M174.6 493.2h0M176.5 492.5h0M178.3 491.2h0M180.2 489.2h0M182 488.1h0M183.9 487.6h0" stroke-width="0.9"/>
<path d="M182 488.2h0M183.9 487.6h0M185.8 487.8h0M187.6 488.2h0M189.5 488.5h0M191.3 488.8h0M193.2 489.1h0M195 489.4h0M196.9 489.7h0M198.8 489.6h0M200.6 489.3h0M202.5 489h0M204.3 488.7h0M206.2 488.6h0M208 488.9h0M209.9 489.1h0M211.8 489h0M213.6 488.7h0M215.5 488.4h0M217.3 488.2h0M219.2 488.1h0M221.1 488.4h0M222.9 489.1h0M224.8 489.9h0M226.6 490.6h0M228.5 491h0M230.3 490.9h0M232.2 490.5h0" stroke-width="1.6"/>
<path d="M187.6 488.8h0M189.5 489.9h0M191.3 491.2h0M193.2 492.5h0M195 496.1h0M196.9 499h0M198.8 500.2h0M200.6 500.6 202.5 500.4" stroke-width="1.9"/>
<path d="M193.2 490.6h0M195 491.4h0M196.9 492.8h0M198.8 494.3h0M200.6 495.4h0M202.5 495.9h0M204.3 495.7h0M206.2 494.6h0M208 491.7h0M209.9 490.8h0M211.8 490.7h0M213.6 491.2h0M215.5 491.8h0M217.3 492.4h0M219.2 493.2h0M221.1 493.9h0M222.9 494.5h0M224.8 494.8h0M226.6 495h0M228.5 494.9h0M230.3 494.7h0M232.2 494.5h0" stroke-width="0.9"/>
<path d="M139.3 497.5h0M141.2 496.7h0M143 496.3h0M144.9 495.6h0M146.7 494.5h0M148.6 493.8h0M150.4 494h0M152.3 494.4h0M154.2 493.9h0M156 494h0M157.9 496.7h0M159.7 498.7h0M161.6 500h0M163.5 500.5h0M165.3 499.9h0M167.2 499.1h0M169 498.4h0M170.9 498h0M172.7 498.6h0M174.6 500.1h0M176.5 500.6h0M178.3 499.7h0M180.2 498.7h0M182 497.7h0M183.9 497.6h0M185.8 498.1h0" stroke-width="0.9"/>
<path d="M139.3 503.3h0M141.2 503h0M143 502.8h0M144.9 502.5h0M146.7 502.3h0M148.6 502.1h0M150.4 502h0M152.3 502.2h0M154.2 502.4h0M156 502.5h0M157.9 502.4h0M159.7 502.3h0M161.6 502.2h0M163.5 502.5h0M165.3 503.3h0M167.2 503.7h0M169 503.9h0M170.9 504h0M172.7 503.9h0M174.6 503.6h0M176.5 503.3h0M178.3 503h0M180.2 502.7h0M182 502.6h0M183.9 502.5h0M185.8 502.7h0M187.6 503.1h0M189.5 503.3h0M191.3 503.5h0M193.2 503.5h0M195 503.5h0M196.9 503.4h0M198.8 503.4h0M200.6 503.3h0M202.5 503.2h0M204.3 503.1h0M206.2 502.9h0M208 502.5h0M209.9 502.2h0M211.8 502h0M213.6 502h0M215.5 502.1h0M217.3 502.2h0M219.2 502.4h0M221.1 502.6h0M222.9 503h0M224.8 503.4h0M226.6 503.5h0M228.5 503.4h0M230.3 503.2h0M232.2 503h0" stroke-width="0.9"/>
<path d="M232.2 407.5 233.1 408.3 233.9 409.1 234.8 409.8 235.7 410.4 236.6 410.9 237.4 411.2 238.3 411.6 239.2 411.8 240 412.1 240.9 412.3 241.8 412.5 242.7 412.7 243.5 413 244.4 413.3 245.3 413.5 246.2 413.7 247 413.7 247.9 413.6 248.8 413.3 249.6 413.1 250.5 412.8" stroke-width="1.4"/>
<path d="M251.4 412.6 252.3 412.4 253.1 412.2 254 412 254.9 411.7 255.7 411.2 256.6 410.5 257.5 409.6 258.4 408.9 259.2 408.2 260.1 407.5 261 407 261.8 406.9 262.7 407 263.6 407.4 264.5 408 265.3 408.8 266.2 409.8 267.1 410.9 268 411.9 268.8 413.1 269.7 414.3 270.6 415.2 271.4 415.5 272.3 415.3 273.2 415 274.1 414.8 274.9 414.4 275.8 414.2 276.9 415.5 277.9 416.9 279 416.5 280.1 415.4 281.1 414.4 282.2 413.7 283.3 413 284.3 412.3 285.4 411.7 286.5 411 287.5 410.2 288.6 409.5 289.7 409 290.7 408.7 291.8 408.5 292.9 408.5 293.9 408.6 295 408.8 296.1 409.1 297.1 409.6 298.2 410.2 299.3 410.9 300.3 411.7 301.4 412.4 302.5 413 303.5 413.7 304.6 414.4 305.6 415 306.7 415.9 307.8 416.7 308.8 416.8 309.9 415.8 311 414.4" stroke-width="1.97"/>
<path d="M312 415.5 313.1 416.6 314.2 416.9 315.2 416.4 316.3 415.6 317.4 415 318.4 414.3 319.5 413.6 320.6 412.9 321.6 412.4 322.7 411.8 323.8 411.3 324.8 410.8 325.9 410.3 327 409.8 328 409.4 329.1 409" stroke-width="0.9"/>
<path d="M232.2 419 233.1 418 233.9 417.1 234.8 416.4 235.7 415.7 236.6 415.7 237.4 416.4 238.3 417.6 239.2 419 240 420.4 240.9 421.7 241.8 422.9 242.7 424 243.5 425.1 244.4 426.3 245.3 427.4 246.2 427.9 247 427.5 247.9 426.5 248.8 425.2 249.6 424 250.5 422.6 251.4 421.2 252.3 419.8 253.1 418.6 254 417.3 254.9 416.2 255.7 415.8 256.6 416 257.5 416.6 258.4 417.5 259.2 418.4 260.1 419.7 261 421.1 261.8 422.1 262.7 423 263.6 423.7 264.5 424 265.3 423.8 266.2 423.3 267.1 422.6 268 421.9 268.8 420.8 269.7 419.7 270.6 419.1 271.4 419.2 272.3 419.9 273.2 420.9 274.1 421.7 274.9 422.3 275.8 422.6 276.9 421.7 277.9 420.5 279 420.9 280.1 421.7 281.1 422.1 282.2 421.9 283.3 421.4 284.3 420.7 285.4 420.1 286.5 419.4 287.5 418.7 288.6 417.9 289.7 417.4 290.7 417 291.8 416.8 292.9 416.7 293.9 416.8 295 417 296.1 417.5 297.1 418 298.2 418.6 299.3 419.3 300.3 420 301.4 420.7 302.5 421.3 303.5 422 304.6 422.4 305.6 422.6 306.7 422 307.8 421.3 308.8 421.1 309.9 421.9 311 422.6 312 422.1 313.1 421.2 314.2 421.1 315.2 421.6 316.3 422.3" stroke-width="2.13"/>
<path d="M317.4 422.4 318.4 422 319.5 421.6 320.6 421.2 321.6 420.7 322.7 420 323.8 419.3 324.8 418.6 325.9 418 327 417.4 328 416.9 329.1 416.3" stroke-width="0.9"/>
<path d="M232.2 428.4 233.1 429 233.9 429.7 234.8 430.3 235.7 430.8 236.6 431.4 237.4 431.9 238.3 432.3 239.2 432.6 240 432.6 240.9 432.5 241.8 432.3 242.7 432.1 243.5 431.9 244.4 431.7 245.3 431.5 246.2 431.5 247 431.5 247.9 431.6 248.8 431.7 249.6 431.8 250.5 432 251.4 432.1 252.3 432.3 253.1 432.5 254 432.7 254.9 432.7 255.7 432.2 256.6 431.3 257.5 430.2 258.4 429.3 259.2 428.6 260.1 428 261 427.9 261.8 428.4 262.7 429.2 263.6 430.1 264.5 431.2 265.3 432.2 266.2 432.6 267.1 432.3 268 431.8 268.8 431.2 269.7 430.6 270.6 430 271.4 429.3 272.3 428.7 273.2 428.2 274.1 427.9 274.9 427.8 275.8 427.9 276.9 428.2" stroke-width="1.5"/>
<path d="M270.6 430 271.4 429.5 272.3 428.9 273.2 428.3 274.1 427.8 274.9 427.3 275.8 427.4 276.9 427.7 277.9 428.3 279 429.3 280.1 430.7 281.1 432.3 282.2 433.8 283.3 435.5" stroke-width="2.3"/>
<path d="M284.3 436.8h0M285.4 438 286.5 439.1 287.5 439.9 288.6 440.6 289.7 441.3 290.7 441.9 291.8 442.3 292.9 442.5 293.9 442.4 295 442 296.1 441.4 297.1 440.6 298.2 439.8 299.3 439.2 300.3 438.7 301.4 438.2 302.5 437.5M303.5 436.2h0M304.6 434.1h0M305.6 431.4h0" stroke-width="0.9"/>
<path d="M306.7 429.2 307.8 428.5 308.8 427.8 309.9 427.4 311 427.3 312 427.6 313.1 428.2 314.2 428.9 315.2 430.1 316.3 431.9 317.4 433.9 318.4 435.2 319.5 436 320.6 436.8 321.6 437.5 322.7 438.2 323.8 438.9 324.8 439.6 325.9 440.2 327 440.8 328 441.4 329.1 442" stroke-width="2.3"/>
<path d="M232.2 439.9 233.1 439.8 233.9 439.6 234.8 439.5 235.7 439.3 236.6 439.1 237.4 438.9 238.3 438.7 239.2 438.8 240 439.1 240.9 439.7 241.8 440.4 242.7 441 243.5 441.5 244.4 441.7 245.3 441.9 246.2 442 247 442 247.9 442 248.8 442 249.6 441.9 250.5 441.7 251.4 441.3 252.3 440.7 253.1 439.7 254 438.6 254.9 437.9 255.7 438 256.6 438.9 257.5 439.8 258.4 440 259.2 439.9 260.1 439.5 261 438.9 261.8 438.1 262.7 437.2 263.6 436.5 264.5 436.2 265.3 436.5 266.2 437.5 267.1 438.7 268 439.7 268.8 440.7 269.7 441.8 270.6 442.8 271.4 443.7 272.3 444.4 273.2 444.9 274.1 445.2 274.9 445.4" stroke-width="1.6"/>
<path d="M275.8 445.5 276.9 445.1 277.9 444.5 279 443.5 280.1 442.4 281.1 442 282.2 442.5 283.3 443.5 284.3 444.8 285.4 446 286.5 447.1 287.5 448.4 288.6 449.5 289.7 450.3 290.7 451 291.8 451.4 292.9 451.5 293.9 451.4 295 450.8 296.1 450 297.1 449.1 298.2 448.2 299.3 447.3 300.3 446.2 301.4 445.1 302.5 444 303.5 443 304.6 442.3 305.6 442 306.7 442.5 307.8 443.5 308.8 444.7 309.9 445.5 311 445.5 312 445 313.1 444.3 314.2 443.4 315.2 442.6 316.3 442.1 317.4 442.1 318.4 442.9 319.5 444.2 320.6 445.6 321.6 446.8 322.7 448.1 323.8 449.1 324.8 449.7 325.9 450.2 327 450.6 328 451 329.1 451.4" stroke-width="2.3"/>
<path d="M286.5 447.4 287.5 448.4 288.6 449.3 289.7 449.8 290.7 450.1 291.8 450.3 292.9 450.4 293.9 450.3 295 450.1 296.1 449.7 297.1 449.1 298.2 448.3 299.3 447.4" stroke-width="0.9"/>
<path d="M232.2 449.4 233.1 449.7 233.9 450.1 234.8 450.5 235.7 451 236.6 451.5 237.4 452.1 238.3 452.7 239.2 453.6 240 454.4 240.9 455 241.8 454.8 242.7 453.5 243.5 451.8 244.4 450.4 245.3 448.9 246.2 447.7 247 447.9 247.9 449.7 248.8 451.6M249.6 453.7 250.5 455 251.4 454.7 252.3 453.8 253.1 452.9 254 451.9 254.9 451.2 255.7 450.6 256.6 450 257.5 449.5 258.4 449 259.2 448.8 260.1 448.7 261 448.9 261.8 449.3 262.7 449.7 263.6 450.1" stroke-width="1.7"/>
<path d="M260.1 448.9 261 449.3 261.8 449.7 262.7 450 263.6 450.3 264.5 450.4 265.3 450.4 266.2 450.2 267.1 450 268 449.9 268.8 449.9 269.7 450.1 270.6 450.5 271.4 450.9 272.3 451.3 273.2 451.6 274.1 451.8 274.9 451.9 275.8 452 276.9 452.1 277.9 452.1 279 452 280.1 451.9 281.1 451.8 282.2 451.6 283.3 451.6 284.3 451.7 285.4 451.8 286.5 452.1 287.5 452.3 288.6 452.6 289.7 452.7 290.7 452.9 291.8 453.1 292.9 453.2 293.9 453.3 295 453.3 296.1 453.2 297.1 453 298.2 452.7 299.3 452.4 300.3 452.2 301.4 452 302.5 451.9 303.5 451.8 304.6 451.7 305.6 451.6 306.7 451.6 307.8 451.7 308.8 451.8 309.9 451.9 311 452 312 452.1 313.1 452.1 314.2 452 315.2 451.8 316.3 451.7 317.4 451.6 318.4 451.6 319.5 451.7 320.6 451.8 321.6 451.9 322.7 452 323.8 452.1 324.8 452.2 325.9 452.3 327 452.5 328 452.6 329.1 452.7" stroke-width="2.46"/>
<path d="M232.2 456.1 233.1 456.6 233.9 457.1 234.8 457.5 235.7 457.8 236.6 457.9 237.4 457.9 238.3 457.9 239.2 457.8 240 457.8 240.9 457.8 241.8 457.8 242.7 457.9 243.5 458 244.4 458.2 245.3 458.3 246.2 458.4 247 458.4 247.9 458.4 248.8 458.3 249.6 458.2 250.5 458.1 251.4 458 252.3 457.8 253.1 457.7 254 457.5 254.9 457.3 255.7 457 256.6 456.9 257.5 456.7 258.4 456.7 259.2 456.8 260.1 457 261 457.2 261.8 457.5 262.7 457.9 263.6 458.2" stroke-width="1.7"/>
<path d="M259.2 456.9 260.1 457.2 261 457.5 261.8 457.8 262.7 458 263.6 458.3 264.5 458.5 265.3 458.6 266.2 458.8 267.1 458.9 268 459 268.8 459 269.7 459 270.6 458.9 271.4 458.4 272.3 457.9 273.2 457.4 274.1 457 274.9 456.7 275.8 456.3 276.9 456.1 277.9 456.7 279 457 280.1 457.4 281.1 457.8 282.2 458.2 283.3 458.8 284.3 459.6 285.4 460.4 286.5 461 287.5 461.4 288.6 461.7 289.7 461.8 290.7 461.8 291.8 461.8 292.9 461.8 293.9 461.7 295 461.5 296.1 461.3 297.1 461.1 298.2 460.8 299.3 460.5 300.3 460 301.4 459.6 302.5 459.1 303.5 458.7 304.6 458.2 305.6 457.8 306.7 457.4 307.8 457 308.8 456.7 309.9 456.4 311 456.2 312 456.1 313.1 456.1 314.2 456.2 315.2 456.4 316.3 456.7 317.4 457.1 318.4 457.5 319.5 458.1 320.6 458.9 321.6 459.8 322.7 460.9 323.8 462 324.8 463.2 325.9 464.1 327 464.7 328 465 329.1 465.2" stroke-width="2.38"/>
<path d="M232.2 465.2 233.1 464.6 233.9 464.3 234.8 464.1 235.7 464 236.6 464 237.4 463.9 238.3 464 239.2 464 240 464.1 240.9 464.3 241.8 464.6 242.7 465 243.5 465.5 244.4 466.4 245.3 467.5 246.2 468.1 247 467.8 247.9 466.9 248.8 465.7 249.6 464.7 250.5 464.1 251.4 463.8 252.3 463.6 253.1 463.5 254 463.4 254.9 463.4 255.7 463.5 256.6 463.5 257.5 463.6 258.4 463.7 259.2 463.9 260.1 464.1 261 464.4 261.8 464.7 262.7 465.1 263.6 465.6 264.5 466.1 265.3 466.7 266.2 467.3" stroke-width="1.7"/>
<path d="M262.7 465.2 263.6 465.8 264.5 466.4 265.3 466.9 266.2 467.4 267.1 467.7 268 467.9 268.8 467.9 269.7 467.6 270.6 466.9 271.4 465.7 272.3 464.3 273.2 463.1 274.1 462.2 274.9 461.4 275.8 460.7 276.9 460.1 277.9 460.7 279 461.1 280.1 461.6 281.1 462.1 282.2 462.7 283.3 463.7 284.3 465.5 285.4 467 286.5 467.7 287.5 467.6 288.6 467.3 289.7 467.1 290.7 467 291.8 467.3 292.9 467.7 293.9 468.1 295 468.1 296.1 467.7 297.1 467.1 298.2 466.3 299.3 465.5 300.3 464.9 301.4 464.3 302.5 463.7 303.5 463.3 304.6 462.9 305.6 462.5 306.7 462.1 307.8 461.9 308.8 461.8 309.9 461.9 311 462 312 462.2 313.1 462.5 314.2 462.9 315.2 463.4 316.3 464.2 317.4 465.1 318.4 466 319.5 466.6 320.6 467.3 321.6 467.8 322.7 468.1 323.8 468.1 324.8 467.7 325.9 467.2 327 466.5 328 465.9 329.1 465.2" stroke-width="2.38"/>
<path d="M232.2 471 233.1 470.8 233.9 470.6 234.8 470.5 235.7 470.4 236.6 470.4 237.4 470.5 238.3 470.6 239.2 470.7 240 470.8 240.9 470.9 241.8 471 242.7 471.1 243.5 471.3 244.4 471.4 245.3 471.5 246.2 471.5 247 471.5 247.9 471.4 248.8 471.2 249.6 471 250.5 470.8 251.4 470.6 252.3 470.4 253.1 470.4 254 470.4 254.9 470.5 255.7 470.6 256.6 470.7 257.5 470.9 258.4 471 259.2 471.1 260.1 471.1 261 471.2 261.8 471.3 262.7 471.4 263.6 471.4" stroke-width="1.7"/>
<path d="M259.2 471.1 260.1 471.2 261 471.3 261.8 471.4 262.7 471.4 263.6 471.5 264.5 471.5 265.3 471.4 266.2 471.2 267.1 471.1 268 470.9 268.8 471 269.7 471.4 270.6 472.2 271.4 472.9 272.3 473.2 273.2 473 274.1 472.5 274.9 471.9 275.8 471.4 276.9 470.7 277.9 470.4 279 470.5 280.1 470.7 281.1 470.9 282.2 471 283.3 470.9 284.3 470.5 285.4 470.1 286.5 469.8 287.5 469.9 288.6 470.2 289.7 470.6 290.7 471.1 291.8 471.5 292.9 471.9 293.9 472.3 295 472.6 296.1 472.7 297.1 472.5 298.2 472.1 299.3 471.6 300.3 471.1 301.4 470.9 302.5 470.8 303.5 470.8 304.6 470.9 305.6 471 306.7 471.3 307.8 471.7 308.8 472 309.9 472.1 311 471.8 312 471.3 313.1 470.8 314.2 470.4 315.2 470.4 316.3 470.7 317.4 471.1 318.4 471.4 319.5 471.5 320.6 471.3 321.6 471 322.7 470.6 323.8 470.4 324.8 470.1 325.9 469.9 327 469.7 328 469.4 329.1 469.2" stroke-width="2.38"/>
<path d="M233.9 477.1h0M234.8 479.5 235.7 481.2 236.6 482.3 237.4 483.1 238.3 483.5 239.2 483.5 240 482.6 240.9 481.2 241.8 479.7 242.7 478.8 243.5 478.1 244.4 477.6 245.3 477.2 246.2 477.1 247 477.5 247.9 478.4 248.8 479.7 249.6 480.8 250.5 481.6 251.4 482.3 252.3 482.9 253.1 483.3 254 483.5 254.9 483.5 255.7 483.4 256.6 483.2 257.5 482.9 258.4 482.5 259.2 481.9 260.1 481 261 480 261.8 479 262.7 477.9 263.6 476.8 264.5 475.6 265.3 474.5" stroke-width="1.7"/>
<path d="M262.7 477.7 263.6 476.4 264.5 475.3 265.3 474.4 266.2 474 267.1 473.9 268 474 268.8 474.4 269.7 475.3 270.6 476.9 271.4 479M272.3 481.9 273.2 482.3 274.1 481.2 274.9 479.6 275.8 478M276.9 475 277.9 473.3 279 473.1 280.1 473.5 281.1 474 282.2 474.4 283.3 474.3 284.3 473.9 285.4 473.4 286.5 473.2 287.5 473.4 288.6 474 289.7 474.9 290.7 475.9 291.8 476.7 292.9 477.3 293.9 477.8 295 478.2 296.1 478.4 297.1 478.3 298.2 477.9 299.3 477.4 300.3 476.8 301.4 476.3 302.5 475.6 303.5 474.9 304.6 474.4 305.6 474.5 306.7 474.9 307.8 475.7 308.8 476.5 309.9 477.3 311 477.8 312 477.6 313.1 476.7 314.2 475.7 315.2 475.2 316.3 474.9 317.4 474.6 318.4 474.4 319.5 474.4 320.6 474.6 321.6 474.9 322.7 475.2 323.8 475.5 324.8 475.9 325.9 476.2 327 476.5 328 476.9 329.1 477.2" stroke-width="1.97"/>
<path d="M264.5 488.6 265.3 487.9 266.2 487.1 267.1 486.5 268 485.8 268.8 485.2 269.7 484.3 270.6 482.9 271.4 481.2 272.3 479.4 273.2 477.9 274.1 477.2 274.9 477.3 275.8 478 276.9 480.1 277.9 481.2 279 481.2 280.1 480.9 281.1 480.5 282.2 480.2 283.3 480 284.3 479.7 285.4 479.5 286.5 479.5 287.5 479.6 288.6 479.9 289.7 480.4 290.7 480.8 291.8 481.2 292.9 481.6 293.9 482 295 482.3 296.1 482.4 297.1 482.2 298.2 481.8 299.3 481.2 300.3 480.8 301.4 480.5 302.5 480.3 303.5 480.2 304.6 480.1 305.6 480.1 306.7 480.3 307.8 480.6 308.8 480.6 309.9 479.2 311 477.8 312 478.6 313.1 480.3 314.2 481.4 315.2 482.6 316.3 483.3 317.4 483.6 318.4 483.4 319.5 483.1 320.6 482.7 321.6 482.3 322.7 481.8 323.8 481.2 324.8 480.6 325.9 480.1 327 479.8 328 479.6 329.1 479.5" stroke-width="2.54"/>
<path d="M232.2 486.9 233.1 487.2 233.9 487.6 234.8 487.9 235.7 488.4 236.6 489 237.4 489.3 238.3 489 239.2 488.4 240 487.5 240.9 486.4 241.8 485.3M242.7 483.9h0M243.5 482.2h0M244.4 480.4h0M245.3 478.9 246.2 477.9 247 478.1M247.9 479.6h0M248.8 482h0M249.6 484.3h0M250.5 485.7 251.4 486.7 252.3 487.5 253.1 488.1 254 488.6 254.9 489 255.7 489.2 256.6 489.2 257.5 489.1 258.4 489 259.2 488.8 260.1 488.6 261 488.5 261.8 488.4 262.7 488.3 263.6 488.3 264.5 488.2 265.3 488.2 266.2 488.1" stroke-width="1.2"/>
<path d="M270.6 484.9 271.4 484.7 272.3 484.6 273.2 484.5 274.1 484.4 274.9 484.2 275.8 484.1 276.9 484 277.9 484.1 279 484.3 280.1 484.7 281.1 485.2 282.2 485.7 283.3 486 284.3 486.3 285.4 486.6 286.5 486.8 287.5 487 288.6 487.2 289.7 487.3 290.7 487.4 291.8 487.5 292.9 487.5 293.9 487.4 295 487.2 296.1 486.9 297.1 486.7 298.2 486.4 299.3 486.1 300.3 485.8 301.4 485.4 302.5 485.1 303.5 484.8 304.6 484.5 305.6 484.3 306.7 484.2 307.8 484.1 308.8 484 309.9 484.1 311 484.3 312 484.7 313.1 485.2 314.2 485.7 315.2 486 316.3 486.4 317.4 486.7 318.4 486.9 319.5 486.9 320.6 486.7 321.6 486.4 322.7 486 323.8 485.8 324.8 485.5 325.9 485.3 327 485.1 328 484.8 329.1 484.6" stroke-width="2.46"/>
<path d="M232.2 496.1 233.1 496.1 233.9 496.1 234.8 496.1 235.7 496 236.6 495.8 237.4 495.6 238.3 495.4 239.2 495.1 240 494.8 240.9 494.5 241.8 494.2 242.7 493.8 243.5 493.4 244.4 493 245.3 492.7 246.2 492.6 247 492.8 247.9 493.4 248.8 494.4 249.6 495.3 250.5 496 251.4 496.4 252.3 496.7 253.1 496.9 254 497 254.9 497 255.7 497 256.6 496.8 257.5 496.6 258.4 496.3 259.2 496.1 260.1 495.9 261 495.7 261.8 495.5 262.7 495.3 263.6 495" stroke-width="1.7"/>
<path d="M260.1 495.9 261 495.7 261.8 495.5 262.7 495.3 263.6 495.1 264.5 494.8 265.3 494.4 266.2 493.9 267.1 493.4 268 493 268.8 492.6 269.7 492.3 270.6 492 271.4 491.8 272.3 491.6 273.2 491.5 274.1 491.5 274.9 491.6 275.8 491.7 276.9 491.8 277.9 492 279 492.1 280.1 492.2 281.1 492.3 282.2 492.5 283.3 492.9 284.3 493.7 285.4 494.4 286.5 494.9 287.5 494.8 288.6 494.3 289.7 493.5 290.7 492.7 291.8 492 292.9 491.5 293.9 491.5 295 492 296.1 492.6 297.1 492.9 298.2 493.3 299.3 493.6 300.3 493.8 301.4 493.7 302.5 493.4 303.5 493 304.6 492.6 305.6 492.2 306.7 492 307.8 491.9 308.8 491.8 309.9 491.8 311 491.9 312 492 313.1 492.2 314.2 492.5 315.2 492.9 316.3 493.1 317.4 493.2 318.4 493.1 319.5 492.9 320.6 492.7 321.6 492.6 322.7 492.5 323.8 492.4 324.8 492.2 325.9 492 327 491.6 328 491 329.1 490.3" stroke-width="2.3"/>
<path d="M232.2 499 233.1 499 233.9 499.1 234.8 499.2 235.7 499.3 236.6 499.4 237.4 499.6 238.3 499.9 239.2 500.2 240 500.5 240.9 500.9 241.8 501.2 242.7 501.4 243.5 501.7 244.4 501.8 245.3 502 246.2 502 247 502.1 247.9 502.2 248.8 502.3 249.6 502.3 250.5 502.4 251.4 502.4 252.3 502.5 253.1 502.6 254 502.7 254.9 502.8 255.7 502.9 256.6 503 257.5 503.2 258.4 503.3 259.2 503.3 260.1 503.4 261 503.5 261.8 503.5 262.7 503.5 263.6 503.4 264.5 503.3 265.3 503.1 266.2 502.9 267.1 502.7 268 502.5 268.8 502.3 269.7 502.2 270.6 502 271.4 501.8 272.3 501.6 273.2 501.4 274.1 501.2 274.9 501" stroke-width="1.0"/>
<path d="M285.4 502.2 286.5 501.1 287.5 500 288.6 499 289.7 498 290.7 496.7 291.8 495.4 292.9 494.9 293.9 495.5 295 496.8 296.1 498.1 297.1 499.2 298.2 500.2 299.3 501.3 300.3 502.4" stroke-width="1.4"/>
<path d="M283.3 504.8 284.3 504.1 285.4 503.5 286.5 502.8 287.5 502.2 288.6 501.5 289.7 500.8 290.7 500.1 291.8 499.7 292.9 499.5 293.9 499.7 295 500.3 296.1 501.1 297.1 501.9 298.2 502.6 299.3 503.3 300.3 503.9 301.4 504.6" stroke-width="1.4"/>
<path d="M314.2 504.9 315.2 504 316.3 503.1 317.4 502.2 318.4 501.2 319.5 500.1 320.6 498.9 321.6 497.9 322.7 496.9 323.8 495.8 324.8 494.7 325.9 493.6 327 492.5 328 491.4 329.1 490.3" stroke-width="1.6"/>
<path d="M320.6 504.6 321.6 503.8 322.7 503 323.8 502.2 324.8 501.4 325.9 500.5 327 499.7 328 498.8 329.1 498" stroke-width="1.6"/>
</g>
<rect x="77.4" y="289.3" width="251.7" height="216.1" fill="none" stroke="#555" stroke-width="1"/>
<line x1="74.4" y1="289.3" x2="77.4" y2="289.3" stroke="#555"/>
<text x="73.8" y="296.7" font-size="21" text-anchor="end" >1.00</text>
<line x1="74.4" y1="316.3" x2="77.4" y2="316.3" stroke="#555"/>
<text x="73.8" y="323.7" font-size="21" text-anchor="end" >0.75</text>
<line x1="74.4" y1="343.3" x2="77.4" y2="343.3" stroke="#555"/>
<text x="73.8" y="350.7" font-size="21" text-anchor="end" >0.50</text>
<line x1="74.4" y1="370.3" x2="77.4" y2="370.3" stroke="#555"/>
<text x="73.8" y="377.7" font-size="21" text-anchor="end" >0.25</text>
<line x1="74.4" y1="397.4" x2="77.4" y2="397.4" stroke="#555"/>
<text x="73.8" y="404.8" font-size="21" text-anchor="end" >0.00</text>
<line x1="74.4" y1="424.4" x2="77.4" y2="424.4" stroke="#555"/>
<text x="73.8" y="431.8" font-size="21" text-anchor="end" >-0.25</text>
<line x1="74.4" y1="451.4" x2="77.4" y2="451.4" stroke="#555"/>
<text x="73.8" y="458.8" font-size="21" text-anchor="end" >-0.50</text>
<line x1="74.4" y1="478.4" x2="77.4" y2="478.4" stroke="#555"/>
<text x="73.8" y="485.8" font-size="21" text-anchor="end" >-0.75</text>
<line x1="74.4" y1="505.4" x2="77.4" y2="505.4" stroke="#555"/>
<text x="73.8" y="512.8" font-size="21" text-anchor="end" >-1.00</text>
<line x1="77.4" y1="505.4" x2="77.4" y2="508.4" stroke="#555"/>
<line x1="139.3" y1="505.4" x2="139.3" y2="508.4" stroke="#555"/>
<line x1="232.2" y1="505.4" x2="232.2" y2="508.4" stroke="#555"/>
<line x1="275.8" y1="505.4" x2="275.8" y2="508.4" stroke="#555"/>
<line x1="329.1" y1="505.4" x2="329.1" y2="508.4" stroke="#555"/>
<text x="9.9" y="294.8" font-size="27.5" text-anchor="start" >c</text>
<text x="139.3" y="525.8" font-size="22" text-anchor="middle" >X</text>
<text x="232.2" y="525.8" font-size="22" text-anchor="middle" >W</text>
<text x="275.8" y="525.8" font-size="22" text-anchor="middle" >L</text>
<path d="M74.9 527 V512 H81.3" fill="none" stroke="#111" stroke-width="1.9"/>
<path d="M325.9 527 V512 H332.4" fill="none" stroke="#111" stroke-width="1.9"/>
<text transform="translate(19.5,394.1) rotate(-90)" font-size="25" text-anchor="middle"><tspan font-style="italic">E</tspan> (eV)</text>
<line x1="490.4" y1="289.3" x2="490.4" y2="505.4" stroke="#bbb" stroke-width="0.8"/>
<line x1="583.4" y1="289.3" x2="583.4" y2="505.4" stroke="#bbb" stroke-width="0.8"/>
<line x1="627.2" y1="289.3" x2="627.2" y2="505.4" stroke="#bbb" stroke-width="0.8"/>
<g clip-path="url(#clipd)" fill="none" stroke="#111" stroke-linecap="round" stroke-linejoin="round">
<path d="M429.2 329.6h0M430.5 329.9h0M431.7 329.8h0M433 329h0M434.2 327.5h0M435.5 325.7h0M436.7 324h0M438 322.4h0M439.2 320.7h0M440.5 319.3h0M441.7 318.3h0M443 317.6h0M444.2 317.1h0M445.5 316.6h0M446.7 316.2h0M448 315.8h0M449.2 315.7h0M450.5 315.7h0M451.7 315.8h0M453 316.2h0M454.2 317.1h0M455.5 318.5h0M456.7 320.2h0M458 322h0M459.2 324h0M460.4 326.2h0M461.7 328h0M462.9 329h0M464.2 329.4h0M465.4 329.5h0M466.7 329.5h0M467.9 329.4h0M469.2 329.1h0M470.4 328.8h0M471.7 328.5h0M472.9 328.5h0M474.2 329h0M475.4 329.5h0M476.7 329.6h0M477.9 328.9h0M479.2 327.4h0M480.4 325.6h0M481.7 323.9h0M482.9 322.2h0M484.2 320.6h0M485.4 319.1h0M486.7 317.8h0M487.9 316.7h0M489.2 316h0M490.4 315.6h0M492.3 315.9h0M494.1 316.4h0" stroke-width="1.0"/>
<path d="M450.5 315.8 451.7 315.9 453 316.3 454.2 317.1 455.5 318.6M456.7 320.3h0M458 322h0M459.2 323.8h0M460.4 325.7h0" stroke-width="1.48"/>
<path d="M429.2 315.5h0M430.5 313h0M431.7 310.5h0M433 308.2h0M434.2 305.7h0M435.5 303.4h0M436.7 301.7h0M438 300.6h0M439.2 299.9h0M440.5 299.7h0M441.7 300h0M443 301.3h0M444.2 303.1h0M445.5 305.6h0M446.7 308.3h0M448 310.1h0M449.2 310.5h0M450.5 309.7h0M451.7 308.4h0M453 306.6h0M454.2 303.8h0M455.5 301.3h0M456.7 299.9h0M458 298.9h0M459.2 298.4h0M460.4 298.9h0M461.7 301h0M462.9 304.2h0M464.2 307.1h0M465.4 310.2h0M466.7 313.1h0M467.9 315.2h0M469.2 316.5h0M470.4 316.7h0M471.7 316.4h0M472.9 315.3h0M474.2 313h0M475.4 309.2h0M476.7 305.1h0M477.9 301.4h0M479.2 299.2h0M480.4 298.4h0M481.7 298.7h0M482.9 300h0M484.2 301.9h0M485.4 303.7h0M486.7 305.7h0M487.9 307.8h0M489.2 309.6h0M490.4 310.7h0M492.3 311.3h0M494.1 311.4h0" stroke-width="1.1"/>
<path d="M441.7 300.2 443 301.4 444.2 303.1M445.5 305.6h0M446.7 308.3 448 310.1 449.2 310.4 450.5 309.9" stroke-width="1.97"/>
<path d="M429.2 294h0M430.5 293.3h0M431.7 292.6h0M433 292h0M434.2 291.3h0M435.5 290.7h0M436.7 290.2h0M438 289.9h0" stroke-width="0.9"/>
<path d="M459.2 289.7h0M460.4 289.9h0M461.7 290.5h0M462.9 291.5h0M464.2 292.6h0M465.4 293.6h0M466.7 294.5h0M467.9 295.1h0M469.2 295.5h0M470.4 295.6h0M471.7 295h0M472.9 294.1h0M474.2 292.5h0M475.4 291.1h0M476.7 290.1h0" stroke-width="1.0"/>
<path d="M465.4 297.4h0M466.7 301.4h0M467.9 305.2h0M469.2 308.5h0M470.4 308.8h0M471.7 304.4h0M472.9 299.3h0" stroke-width="0.9"/>
<path d="M525.7 294h0M527.6 294.4h0M529.5 296.1h0M531.3 297.3h0M533.2 298.4h0M535 299.4h0M536.9 300.3h0M538.8 300.8h0M540.6 300.7h0M542.5 299.4h0M544.3 297.9h0M546.2 296.2h0M548.1 292.2h0M549.9 292.2h0M551.8 294.1h0M553.6 295.2h0M555.5 296h0M557.4 296.7h0" stroke-width="1.6"/>
<path d="M527.6 330.3h0M529.5 342.1h0M531.3 352.5h0M533.2 360.6h0M535 366.1h0M536.9 368.9h0M538.8 368.5h0M540.6 364.6h0M542.5 357.4h0M544.3 344.7h0M546.2 331.2h0M548.1 316.3h0" stroke-width="2.07"/>
<path d="M525.7 308.1h0M527.6 307h0M529.5 308.1h0M531.3 310.4h0M533.2 312.7h0M535 315.6h0M536.9 318.5h0M538.8 320.6h0" stroke-width="1.8"/>
<path d="M516.4 318.1h0M518.3 318.7h0M520.2 319.2h0M522 319.7h0M523.9 320.2h0M525.7 320.8h0" stroke-width="1.3"/>
<path d="M538.8 320.7 540.6 319.9M542.5 318.8 544.3 318.3 546.2 318 548.1 317.9 549.9 317.8 551.8 317.6 553.6 317.6 555.5 317.7 557.4 318.2 559.2 319.1 561.1 319.9 562.9 320.5 564.8 320.8 566.7 321" stroke-width="1.6"/>
<path d="M568.5 318.6h0M570.4 316.6h0M572.2 313.6h0M574.1 309.5h0M576 306.9h0M577.8 307h0M579.7 307h0M581.5 307.2h0M583.4 307.5h0" stroke-width="1.0"/>
<path d="M490.4 309.3h0M492.3 309.7h0M494.1 310.6h0M496 312.5h0M497.8 314.8h0M499.7 316.6h0M501.6 318.1h0M503.4 320h0M505.3 321h0M507.1 319.4h0M509 317.7h0M510.9 316.1h0M512.7 314.7h0M514.6 313.4h0M516.4 312.2h0M518.3 311.1h0M520.2 310.1h0M522 309.6h0" stroke-width="0.9"/>
<path d="M490.4 300.5h0M492.3 299.7h0M494.1 298.7h0M496 297.7h0M497.8 297h0M499.7 296.4h0M501.6 296.8h0M503.4 298.2h0M505.3 299.7h0M507.1 301.5h0M509 302.8h0M510.9 302.8h0M512.7 302h0M514.6 300.6h0M516.4 298.5h0M518.3 296.9h0M520.2 295.5h0M522 294.4h0M523.9 293.8h0M525.7 293.9h0M527.6 295.4h0M529.5 297.5h0M531.3 299.1h0M533.2 299.8h0M535 300.4h0M536.9 300.8h0M538.8 299.9h0M540.6 298.6h0M542.5 297.3h0M544.3 295.3h0M546.2 292.5h0M548.1 291.3h0M549.9 292.9h0M551.8 294.4h0M553.6 293.2h0M555.5 291.7h0M557.4 291.8h0M559.2 293.8h0M561.1 296h0M562.9 297.8h0M564.8 298.9h0M566.7 299.7h0M568.5 300h0M570.4 300h0M572.2 299.9h0M574.1 299.4h0M576 298.1h0M577.8 296.2h0M579.7 294.7h0M581.5 293.8h0M583.4 293h0" stroke-width="0.9"/>
<path d="M496 333.9h0M497.8 341.4h0M499.7 351.9h0M501.6 360.7h0M503.4 365.3h0M505.3 369h0M507.1 366.7h0M509 362.7h0M510.9 357.9h0M512.7 350.3h0M514.6 341.4h0M516.4 329.5h0" stroke-width="0.8"/>
<path d="M561.1 346.2h0M562.9 355.5h0M564.8 363.3h0M566.7 368.8h0M568.5 368.5h0M570.4 365.9h0M572.2 359.8h0M574.1 351.5h0M576 340h0" stroke-width="0.8"/>
<path d="M544.3 300.3h0M546.2 302.5h0" stroke-width="1.1"/>
<path d="M583.4 292.3 584.3 293.2 585.2 294.1 586 295 586.9 295.9 587.8 296.9" stroke-width="0.9"/>
<path d="M588.7 297.7 589.5 298 590.4 298.2 591.3 298.5 592.2 298.6 593 298.6 593.9 298.7 594.8 298.6 595.7 298.5 596.5 298.3 597.4 298 598.3 297.7 599.2 297.4 600 297.1 600.9 296.7 601.8 296.2 602.7 295.6 603.5 295 604.4 294.4 605.3 293.7 606.2 293.1 607.1 292.6 607.9 292.3 608.8 292.4 609.7 292.9 610.6 293.4 611.4 294 612.3 294.8 613.2 295.6 614.1 296.6 614.9 297.5 615.8 298.4 616.7 299.3 617.6 299.8 618.4 299.8 619.3 299.5 620.2 299.3 621.1 299 621.9 298.8 622.8 298.5 623.7 298.3 624.6 298.1 625.4 297.9 626.3 297.7 627.2 297.5 628.2 297.8 629.3 298.7 630.4 299.8 631.4 301 632.5 302.1 633.5 303.2 634.6 304.3 635.6 305.4 636.7 306.3 637.7 306.9 638.8 307.4 639.8 307.8 640.9 308 641.9 308.2 643 308.3 644 308.4 645.1 308.4 646.1 308.4 647.2 308.3 648.2 308.2 649.2 307.9 650.3 307.6 651.4 307.2 652.4 306.7 653.5 306.1 654.5 305.4 655.6 304.7 656.6 303.8 657.7 302.9 658.7 301.9" stroke-width="2.05"/>
<path d="M659.8 300.7 660.8 299.5 661.9 298.7 662.9 298.6 664 299.2 665 299.7 666.1 300.2 667.1 300.7 668.2 301.3 669.2 302.1 670.2 302.8 671.3 303.5 672.4 304.2 673.4 304.8 674.5 305.4 675.5 306 676.6 306.6 677.6 307.1 678.7 307.7 679.7 308.2" stroke-width="0.9"/>
<path d="M638.8 303.4h0M639.8 304h0M640.9 303.9h0M641.9 301.2h0M643 298.1h0M644 296.5h0M645.1 298h0M646.1 300.2h0M647.2 302.2h0" stroke-width="1.8"/>
<path d="M634.6 291.4h0M635.6 294h0M636.7 296.6h0M637.7 299.1h0" stroke-width="0.9"/>
<path d="M650.3 291.8h0M651.4 294.6h0M652.4 297.4h0" stroke-width="0.9"/>
<path d="M672.4 292h0M673.4 294.5h0M674.5 297.3h0M675.5 300.8h0M676.6 303h0M677.6 302.1h0M678.7 299.6h0M679.7 296h0" stroke-width="0.9"/>
<path d="M583.4 308.2 584.3 308.4 585.2 308.6 586 308.7 586.9 308.9 587.8 309.1 588.7 309.3 589.5 309.7 590.4 310.1 591.3 310.4 592.2 310.7 593 311 593.9 311.3 594.8 311.4 595.7 311.3 596.5 311.1 597.4 310.7 598.3 310.4 599.2 310.1 600 309.7 600.9 309.4 601.8 309.2 602.7 309 603.5 308.9 604.4 308.7 605.3 308.6 606.2 308.4 607.1 308.3" stroke-width="0.9"/>
<path d="M607.9 308.1 608.8 307.9 609.7 307.7 610.6 307.4 611.4 307.3 612.3 307.2 613.2 307.2 614.1 307.3 614.9 307.5 615.8 307.6 616.7 307.8 617.6 308.5 618.4 309.7 619.3 311.2 620.2 312.9 621.1 314.9 621.9 316.4 622.8 317.7 623.7 318.7 624.6 319.4 625.4 319.9 626.3 320 627.2 319.8 628.2 319.4 629.3 318.9 630.4 318.3 631.4 317.6 632.5 316.6 633.5 315.8 634.6 314.8 635.6 314.7 636.7 316.1 637.7 317.8 638.8 319.9 639.8 321 640.9 320.4 641.9 319.4 643 318.4 644 317.8 645.1 318.6 646.1 319.6 647.2 320.7 648.2 321 649.2 320.2 650.3 319.1 651.4 317.9 652.4 316.7 653.5 315.5 654.5 314.6 655.6 314.9 656.6 316 657.7 316.8 658.7 317.7" stroke-width="2.05"/>
<path d="M659.8 318.4 660.8 319.1 661.9 319.7 662.9 320.4 664 321 665 321 666.1 320.9 667.1 320.6 668.2 320.4 669.2 320.1 670.2 319.4 671.3 318.6 672.4 317.7 673.4 316.7 674.5 315.8 675.5 315.7 676.6 316.3 677.6 316.8 678.7 317.3 679.7 317.8" stroke-width="0.9"/>
<path d="M608.8 319.9h0M609.7 319.3h0M610.6 318.9h0M611.4 318.9h0M612.3 319h0M613.2 319.2h0M614.1 319.3h0M614.9 319.7h0M615.8 321.5h0M616.7 323.8h0M617.6 328.1h0M618.4 338.1h0M619.3 344.2h0M620.2 350h0M621.1 355.9h0M621.9 360.4h0M622.8 364h0M623.7 366.8h0M624.6 368.2h0M625.4 368.8h0M626.3 369.3h0M627.2 369.7h0M628.2 370.1h0M629.3 370.5h0M630.4 370.8h0M631.4 370.2h0M632.5 367.3h0M633.5 363.6h0M634.6 359.3h0M635.6 353.2h0M636.7 346.3h0M637.7 339.5h0M638.8 334.2h0M639.8 331.2h0M640.9 329.3h0M641.9 328.8h0M643 328.8h0M644 328.5h0M645.1 328.5h0M646.1 328.6h0M647.2 328.8h0" stroke-width="2.07"/>
<path d="M586.9 322.4h0M587.8 326.5h0M588.7 330.4h0M589.5 334.5h0M590.4 339.8h0M591.3 345.3h0M592.2 349.8h0M593 353.8h0M593.9 358h0M594.8 362.1h0M595.7 364.8h0M596.5 366.6h0M597.4 368h0M598.3 368.5h0M599.2 367.5h0M600 365.8h0M600.9 363.7h0M601.8 360.4h0M602.7 356.1h0M603.5 352.2h0M604.4 348h0M605.3 340.8h0M606.2 333.7h0M607.1 327.5h0" stroke-width="0.8"/>
<path d="M650.3 329.5h0M651.4 335.8h0M652.4 341.2h0M653.5 348.9h0M654.5 356.1h0M655.6 360h0M656.6 363.7h0M657.7 366.7h0M658.7 367.9h0M659.8 368.4h0M660.8 368.8h0M661.9 368.9h0M662.9 368.7h0M664 368.5h0M665 369.5h0M666.1 370.1h0M667.1 367.2h0M668.2 362.8h0M669.2 359.1h0M670.2 354.5h0M671.3 349.6h0M672.4 344.5h0M673.4 340.3h0M674.5 336.4h0M675.5 332.2h0M676.6 329.5h0M677.6 328.4h0M678.7 327.6h0" stroke-width="0.8"/>
<path d="M659.8 368.6 660.8 368 661.9 367.5 662.9 367.5 664 368 665 369 666.1 370 667.1 369.1" stroke-width="1.5"/>
<path d="M429.2 411.6 430.5 411.7 431.7 411.9 433 412.2 434.2 412.9 435.5 413.4 436.7 413.6 438 413.3 439.2 412.6 440.5 412 441.7 411.6 443 411.1 444.2 410.7" stroke-width="1.0"/>
<path d="M445.5 410.3 446.7 410.1 448 410 449.2 410.2 450.5 410.4 451.7 410.5 453 410.7 454.2 410.8" stroke-width="2.3"/>
<path d="M455.5 411 456.7 411.4 458 411.8 459.2 412.4 460.4 413.3 461.7 413.9 462.9 414.1 464.2 413.5 465.4 412.7 466.7 412 467.9 411.7 469.2 411.5 470.4 411.5 471.7 411.7 472.9 412.2 474.2 412.8 475.4 413.2 476.7 413.5 477.9 413.7 479.2 413.6 480.4 413.2 481.7 412.5 482.9 411.8 484.2 411.3 485.4 411 486.7 410.8 487.9 410.7 489.2 410.6 490.4 410.5" stroke-width="0.9"/>
<path d="M429.2 419.8 430.5 420.6 431.7 421.5 433 422.7 434.2 424.3 435.5 426 436.7 427.7 438 426.7 439.2 424.6 440.5 422.4 441.7 420.2 443 418.5 444.2 417.4 445.5 416.5 446.7 415.8 448 415.3 449.2 415.1 450.5 415.3 451.7 416 453 417 454.2 418.1 455.5 419.4 456.7 421 458 422.9 459.2 424.8 460.4 426.2" stroke-width="2.13"/>
<path d="M461.7 427.7h0M462.9 426.6h0M464.2 424.7h0M465.4 423h0M466.7 421.5h0M467.9 420.3 469.2 419.6 470.4 419.3 471.7 419.4 472.9 419.9M474.2 421h0M475.4 422.7h0M476.7 424.8h0M477.9 426.7h0M479.2 427.7h0M480.4 426.6h0M481.7 424.7h0M482.9 422.7h0M484.2 420.5h0M485.4 418.3h0M486.7 416.6 487.9 415.8 489.2 415.4 490.4 415.2" stroke-width="0.9"/>
<path d="M429.2 434.3 430.5 433 431.7 431.9 433 430.9 434.2 430 435.5 429.2 436.7 428.6 438 428.1 439.2 427.8 440.5 427.5 441.7 427.2 443 427 444.2 426.8 445.5 426.7 446.7 426.7 448 426.8 449.2 427 450.5 427.3 451.7 427.6 453 427.9 454.2 428.3 455.5 428.6 456.7 429 458 429.5 459.2 430.1 460.4 430.8 461.7 431.5 462.9 432.5 464.2 433.5 465.4 434.4 466.7 434.9 467.9 435.3 469.2 435.5 470.4 435.5 471.7 435.3 472.9 435 474.2 434.5 475.4 433.8 476.7 433.1 477.9 432.3 479.2 431.5 480.4 430.6 481.7 429.6 482.9 428.6 484.2 427.9 485.4 427.4 486.7 427.1 487.9 427 489.2 426.8 490.4 426.7" stroke-width="1.5"/>
<path d="M429.2 437.5 430.5 439 431.7 440.3 433 441.6 434.2 441.6 435.5 440.6 436.7 439.4 438 438.3 439.2 437.3 440.5 436.4 441.7 435.5 443 434.6 444.2 433.8 445.5 433.4 446.7 433.7 448 434.3 449.2 434.5 450.5 434.2 451.7 433.7 453 433.4 454.2 433.5 455.5 433.7 456.7 434.2 458 434.8 459.2 435.7 460.4 436.7" stroke-width="2.13"/>
<path d="M461.7 437.8h0M462.9 438.8h0M464.2 439.8 465.4 440.7 466.7 441.2 467.9 441.6 469.2 441.8 470.4 441.8 471.7 441.6 472.9 441.3 474.2 440.7 475.4 439.9 476.7 438.9M477.9 437.9 479.2 436.9M480.4 435.9 481.7 434.9 482.9 434.3 484.2 433.8 485.4 433.6 486.7 433.4 487.9 433.3 489.2 433.3 490.4 433.4" stroke-width="0.9"/>
<path d="M429.2 447.1 430.5 446.4 431.7 445.6 433 445 434.2 444.7 435.5 444.6 436.7 445 438 446 439.2 446.9 440.5 446.8 441.7 445.8 443 444.6 444.2 443 445.5 441.3 446.7 440.1 448 439.4 449.2 439.2 450.5 439.5 451.7 440 453 440.6 454.2 442 455.5 444.3 456.7 446.1" stroke-width="2.13"/>
<path d="M458 447.6 459.2 447 460.4 446.5 461.7 445.9 462.9 445.2 464.2 444.5 465.4 444.3 466.7 444.5 467.9 445M469.2 446.2h0M470.4 447.7 471.7 448.3 472.9 448.2 474.2 447.9 475.4 447.4 476.7 446.7 477.9 445.8 479.2 444.9 480.4 444 481.7 443 482.9 442.1 484.2 441.4 485.4 440.8 486.7 440.4 487.9 439.9 489.2 439.4 490.4 439" stroke-width="0.9"/>
<path d="M429.2 451.4 430.5 451.9 431.7 452.4 433 453 434.2 453.6 435.5 454.4 436.7 455.3 438 456.4 439.2 457.6 440.5 459.3M441.7 461.9 443 464.1 444.2 466" stroke-width="2.13"/>
<path d="M429.2 456.7 430.5 457.1 431.7 457.4 433 457.9 434.2 458.5 435.5 459.6 436.7 460.3 438 459.7 439.2 458.4 440.5 457.3 441.7 456.2 443 455.2 444.2 454.4 445.5 453.8 446.7 453.4 448 453.3 449.2 453.4 450.5 453.9 451.7 454.6 453 455.3" stroke-width="1.97"/>
<path d="M429.2 468.5 430.5 468.6 431.7 468.8 433 469.2 434.2 469.7 435.5 470.4 436.7 471.2 438 472.2 439.2 473.6 440.5 475.5 441.7 477.5 443 478.8 444.2 478.8 445.5 477.6 446.7 476 448 474.7 449.2 474.1" stroke-width="2.46"/>
<path d="M429.2 475 430.5 475 431.7 475.2 433 475.5 434.2 476 435.5 476.6 436.7 477.3 438 478.3 439.2 479.7 440.5 481.5 441.7 483.2 443 485.1 444.2 486.7 445.5 487.9 446.7 488.7 448 489 449.2 489.1 450.5 488.9 451.7 488.6 453 488.1 454.2 487.5" stroke-width="2.46"/>
<path d="M429.2 482.4 430.5 482.3 431.7 482.3 433 482.5 434.2 483.1 435.5 483.9 436.7 484.8 438 485.9 439.2 487.3 440.5 489.1 441.7 490.8 443 492.7 444.2 494.2 445.5 495.1 446.7 495.4 448 495.5 449.2 495.5 450.5 495.3 451.7 495.1 453 494.7 454.2 494.3" stroke-width="2.46"/>
<path d="M429.2 489.1 430.5 489.1 431.7 489.3 433 489.5 434.2 489.9 435.5 490.3 436.7 491.1 438 492.5 439.2 494.3 440.5 496 441.7 498 443 499.6 444.2 500.6 445.5 501.2 446.7 501.6 448 502.1 449.2 502.5 450.5 502.8 451.7 503" stroke-width="2.46"/>
<path d="M429.2 495.8 430.5 496.3 431.7 496.8 433 497.5 434.2 498.5 435.5 499.7 436.7 500.9 438 502.2 439.2 503.6" stroke-width="2.46"/>
<path d="M429.2 500.3 430.5 500.9 431.7 501.5 433 502.4 434.2 503.6 435.5 505" stroke-width="2.46"/>
<path d="M429.2 462.4 430.5 463.1 431.7 464.2 433 465.4" stroke-width="2.46"/>
<path d="M430.5 469 431.7 468.9 433 469 434.2 469.3 435.5 470.1 436.7 471.5 438 473.3 439.2 475.3 440.5 477.6M441.7 480.2h0M443 482.8h0" stroke-width="2.13"/>
<path d="M444.2 481.9h0M445.5 481.1 446.7 481.4M448 482.8h0M449.2 484.2h0M450.5 485.5h0M451.7 486.7h0" stroke-width="1.4"/>
<path d="M444.2 490.1h0M445.5 490.9 446.7 491.5 448 491.1M449.2 490.3 450.5 490 451.7 490.4 453 491" stroke-width="1.4"/>
<path d="M490.4 410.3h0M492.3 410.6h0M494.1 411.4h0M496 412.4h0M497.8 413.4h0M499.7 414.8h0M501.6 417.1h0M503.4 419h0M505.3 419.2h0M507.1 417.9h0M509 416h0M510.9 413.8h0M512.7 412h0M514.6 409.8h0M516.4 406.9h0M518.3 404.4h0M520.2 402.7h0M522 402.5h0M523.9 403.4h0M525.7 406.1h0M527.6 410.9h0M529.5 415.1h0M531.3 419h0M533.2 422.9h0M535 424.6h0M536.9 425.1h0" stroke-width="0.9"/>
<path d="M536.9 422.9h0M538.8 420.3h0M540.6 417.1h0M542.5 412.8h0M544.3 410h0M546.2 407.5h0M548.1 406.6h0M549.9 406.3h0M551.8 406.3h0M553.6 406.3h0M555.5 406.4h0M557.4 406.8h0M559.2 408h0M561.1 410.6h0M562.9 413.5h0M564.8 416.7h0M566.7 420.8h0M568.5 423h0M570.4 424.5h0M572.2 424.1h0M574.1 419.5h0M576 415.3h0M577.8 410.9h0M579.7 406.9h0M581.5 403.8h0M583.4 402.2h0" stroke-width="2.07"/>
<path d="M531.3 425.1h0M533.2 424h0" stroke-width="1.6"/>
<path d="M490.4 415.5h0M492.3 415.8h0M494.1 416.9h0M496 418.3h0M497.8 419.9h0M499.7 421.6h0M501.6 423.6h0M503.4 425.1h0M505.3 425.5h0M507.1 425.1h0M509 424.5h0M510.9 423.6h0M512.7 420.4h0M514.6 415.8h0M516.4 412.8h0M518.3 412.6h0M520.2 413.5h0M522 414.8h0M523.9 416.5h0M525.7 418.4h0M527.6 420.3h0M529.5 422.1h0M531.3 423.6h0M533.2 425.1h0M535 426.2h0M536.9 426.6h0" stroke-width="0.9"/>
<path d="M542.5 424.9h0M544.3 424h0M546.2 421.9h0M548.1 417.7h0M549.9 415.2h0M551.8 414.1h0M553.6 414.2h0M555.5 415.5h0M557.4 417.8h0M559.2 421h0M561.1 424h0" stroke-width="0.9"/>
<path d="M510.9 430.9h0M512.7 430h0M514.6 429h0M516.4 428.1h0M518.3 427.6 520.2 427.4 522 427.5M523.9 426.9h0M525.7 426.2 527.6 426.4M529.5 427.9h0M531.3 429.8h0M533.2 431.7h0M535 433.5 536.9 433.6M538.8 432.2h0" stroke-width="1.9"/>
<path d="M535 426.7h0M536.9 427.1h0M538.8 427.2h0M540.6 426.9h0M542.5 426.3h0M544.3 425.6h0M546.2 424.8h0M548.1 423.7h0M549.9 422.9h0M551.8 422.5h0M553.6 422.5h0M555.5 422.9h0M557.4 423.8h0M559.2 424.8h0M561.1 426.1h0M562.9 427h0M564.8 427.6h0M566.7 427.7h0M568.5 426.7h0M570.4 426h0M572.2 425.7h0M574.1 425.6h0M576 425.8h0M577.8 426.2h0M579.7 426.6h0M581.5 427.1h0M583.4 427.3h0" stroke-width="1.3"/>
<path d="M490.4 426.5h0M492.3 426.7h0M494.1 427.3h0M496 428h0M497.8 429.7h0M499.7 431.5h0M501.6 431.1h0M503.4 430.6h0M505.3 430.4h0M507.1 431h0M509 431.3h0" stroke-width="0.9"/>
<path d="M490.4 434h0M492.3 434.1h0M494.1 434.2h0M496 434.4h0M497.8 435.2h0M499.7 436.1h0M501.6 435.9h0M503.4 435.3h0M505.3 434.2h0M507.1 433.3h0" stroke-width="0.9"/>
<path d="M538.8 432.6h0M540.6 431.7h0M542.5 430.7h0M544.3 429.8h0M546.2 429.8h0M548.1 430h0M549.9 430.1h0M551.8 430.3h0M553.6 431.1h0M555.5 431.8h0M557.4 431.8h0M559.2 431.5h0M561.1 431.6h0M562.9 432.3h0M564.8 433h0M566.7 433.6h0M568.5 433.9h0M570.4 434.1h0M572.2 434.1h0M574.1 433.7h0M576 433h0M577.8 432h0M579.7 430.6h0M581.5 430.2h0M583.4 430h0" stroke-width="1.0"/>
<path d="M542.5 436.3h0M544.3 435.8h0M546.2 435h0M548.1 434.4h0M549.9 434.1h0M551.8 434h0M553.6 434.3h0M555.5 434.7h0M557.4 435.2h0M559.2 435.8h0M561.1 436.5h0M562.9 437.2h0M564.8 437.7h0M566.7 438.1h0M568.5 438.5h0M570.4 439.2h0M572.2 439.7h0M574.1 439.1h0M576 437.6h0M577.8 436.6h0M579.7 436.1h0M581.5 436.2h0M583.4 436.5h0" stroke-width="0.9"/>
<path d="M490.4 440.2h0M492.3 440.4h0M494.1 441.2h0M496 442.2h0M497.8 443.7h0M499.7 445.1h0M501.6 445.5h0M503.4 445.5h0M505.3 445.2h0M507.1 443.9h0M509 442h0M510.9 440.2h0M512.7 438.8h0M514.6 438.1h0M516.4 438.2h0M518.3 438.1h0M520.2 437.7h0M522 437.4h0M523.9 437h0M525.7 436.7h0M527.6 436.7h0M529.5 437.6h0M531.3 439.2h0M533.2 441.2h0M535 442.9h0M536.9 443.8h0M538.8 443.8h0M540.6 442.8h0M542.5 441.6h0" stroke-width="0.9"/>
<path d="M546.2 439.6 548.1 439.3 549.9 439.2 551.8 439.2 553.6 439.2 555.5 439.2M557.4 440h0M559.2 441.7h0M561.1 443h0M562.9 443.8h0M564.8 444.3 566.7 444.5 568.5 444.8" stroke-width="1.9"/>
<path d="M570.4 445.3h0M572.2 445.8h0M574.1 446.2h0M576 446.5h0M577.8 446.4h0M579.7 446.1h0M581.5 445.8h0M583.4 445.5h0" stroke-width="0.9"/>
<path d="M503.4 440.9h0M505.3 441.2h0M507.1 441.8h0M509 443h0M510.9 446.3h0M512.7 448.1h0M514.6 448.4h0M516.4 446.8h0" stroke-width="0.9"/>
<path d="M518.3 442.9h0M520.2 442.5 522 442.5M523.9 443.1h0M525.7 444.1h0M527.6 445.9h0M529.5 447.8h0M531.3 448.5h0M533.2 446.8h0M535 445 536.9 445" stroke-width="1.9"/>
<path d="M538.8 449.3h0M540.6 448.1h0M542.5 447.2 544.3 447.1 546.2 447.1 548.1 447.1 549.9 447.1 551.8 447.1 553.6 447.1 555.5 447.1 557.4 447.2 559.2 447.5 561.1 447.8M562.9 448.3h0" stroke-width="1.9"/>
<path d="M490.4 449.5h0M492.3 449.9h0M494.1 450.3h0M496 450.6h0M497.8 450.9h0M499.7 451h0M501.6 450.9h0M503.4 450.7h0M505.3 450.5h0M507.1 450.5h0M509 450.4h0M510.9 450.2h0" stroke-width="0.9"/>
<path d="M520.2 451.6 522 451.3 523.9 451.4M525.7 452.3h0M527.6 453.3 529.5 453 531.3 453.1M533.2 454.7h0M535 455.1h0M536.9 456.6h0M538.8 457.7 540.6 457.4M542.5 456.3h0M544.3 455.2h0M546.2 454.3h0" stroke-width="1.9"/>
<path d="M546.2 453.1h0M548.1 452.7h0M549.9 452.2h0M551.8 451.9h0M553.6 451.8h0M555.5 452.2h0M557.4 453.1h0M559.2 454.7h0M561.1 456.2h0M562.9 455.9h0M564.8 455.2h0M566.7 454.5h0M568.5 454h0M570.4 453.6h0M572.2 453.3h0M574.1 453h0M576 453.2h0M577.8 453.6h0M579.7 454.2h0M581.5 454.8h0M583.4 455.5h0" stroke-width="1.0"/>
<path d="M490.4 455h0M492.3 455.1h0M494.1 455.7h0M496 456.2h0M497.8 456.3h0M499.7 456.2h0M501.6 456.1h0M503.4 455.8h0M505.3 455.8h0M507.1 456.4h0M509 456.7h0M510.9 456.1h0M512.7 455.3h0M514.6 454.7h0M516.4 454h0M518.3 452.6h0" stroke-width="0.9"/>
<path d="M496 459.9h0M497.8 460.7h0M499.7 461.5h0M501.6 462.1h0M503.4 462.5h0M505.3 462.2h0M507.1 461.6h0M509 461.1h0M510.9 460.6h0M512.7 460.3h0M514.6 460.3h0M516.4 460.2h0M518.3 459.8h0M520.2 459.5h0M522 459.7h0M523.9 460.1h0M525.7 461.1h0M527.6 462.4h0M529.5 463.5h0M531.3 464h0M533.2 462.8h0M535 460.4h0M536.9 459.8h0M538.8 459.4h0M540.6 458.7h0M542.5 457.7h0M544.3 456.8h0M546.2 455.9h0M548.1 455.4h0M549.9 455.4h0M551.8 455.6h0M553.6 456h0M555.5 456.7h0M557.4 457.8h0M559.2 459h0M561.1 460.3h0M562.9 461.2h0M564.8 461.9h0M566.7 462.9h0M568.5 463.8h0M570.4 464.5h0M572.2 464.9h0M574.1 464.9h0M576 464.4h0M577.8 463.7h0M579.7 462.9h0M581.5 462.1h0M583.4 461.5h0" stroke-width="1.0"/>
<path d="M490.4 463.8h0M492.3 465.4h0M494.1 466.5h0M496 468h0M497.8 468.7h0M499.7 468.4h0M501.6 467.7h0M503.4 467h0M505.3 466.2h0M507.1 465.8h0M509 465.7h0M510.9 465.6h0M512.7 465.6h0M514.6 465.6h0M516.4 465.3h0M518.3 465.1h0M520.2 465.2h0M522 465.5h0M523.9 465.9h0M525.7 466.3h0M527.6 467h0M529.5 468.1h0M531.3 468.3h0M533.2 467.5h0" stroke-width="0.9"/>
<path d="M533.2 464.8h0M535 464.6h0M536.9 464.8h0M538.8 465h0M540.6 465.3h0M542.5 465.5h0M544.3 465.7h0M546.2 465.8h0M548.1 466.3h0M549.9 467.7h0M551.8 468.6h0M553.6 468.7h0M555.5 467.7h0M557.4 466.4h0M559.2 465.5h0M561.1 464.6h0M562.9 463.9h0M564.8 463.5h0M566.7 463.8h0M568.5 464.6h0M570.4 465.6h0M572.2 466.7h0" stroke-width="1.8"/>
<path d="M574.1 467.6h0M576 467.2h0M577.8 466.7h0M579.7 466.1h0M581.5 465.7h0M583.4 465.5h0" stroke-width="0.9"/>
<path d="M490.4 474.5h0M492.3 474.5h0M494.1 474.3h0M496 474h0M497.8 473.8h0M499.7 473.6h0M501.6 473h0M503.4 472h0M505.3 471.2h0M507.1 470.7h0M509 470.3h0M510.9 469.9h0M512.7 469.7h0M514.6 471h0M516.4 472.5h0M518.3 472.4h0M520.2 472h0M522 471.3h0M523.9 470.8h0M525.7 471h0M527.6 471.9h0M529.5 473.3h0M531.3 474h0M533.2 472.9h0" stroke-width="0.9"/>
<path d="M533.2 472.5h0M535 472.4h0M536.9 471.9h0M538.8 472.1h0M540.6 472.5h0M542.5 472.8h0M544.3 473h0M546.2 473h0M548.1 472.9h0M549.9 472.6h0M551.8 472.4h0M553.6 472.3h0M555.5 472.4h0M557.4 472.6h0M559.2 472.9h0M561.1 472.8h0M562.9 472.3h0M564.8 471.8h0M566.7 471.5h0M568.5 471.6h0M570.4 472.1h0M572.2 472.5h0M574.1 472.9h0M576 473h0M577.8 472.8h0M579.7 472.5h0M581.5 472.3h0M583.4 472h0" stroke-width="1.5"/>
<path d="M535 476.3 536.9 476.1M538.8 476.8h0M540.6 479.2h0M542.5 477.3h0M544.3 476.4 546.2 476.5 548.1 476.6 549.9 476.6 551.8 476.6 553.6 476.6 555.5 476.6 557.4 476.6 559.2 476.6 561.1 476.7 562.9 476.9" stroke-width="1.9"/>
<path d="M564.8 477.4h0M566.7 477.9h0M568.5 478.5h0M570.4 478.9h0M572.2 479h0M574.1 478.6h0M576 478.4h0M577.8 478.1h0M579.7 478h0M581.5 478.2h0M583.4 478.5h0" stroke-width="0.9"/>
<path d="M490.4 483.5h0M492.3 483.5h0M494.1 483.5h0M496 483.3h0M497.8 482.8h0M499.7 482.3h0M501.6 481.8h0M503.4 481.4h0M505.3 480.6h0M507.1 480.2h0M509 480.8h0M510.9 481.9h0M512.7 483.2h0M514.6 483.8h0M516.4 484h0M518.3 483.6h0M520.2 482.4h0M522 481.2h0M523.9 479.9h0M525.7 478.7h0M527.6 477.8h0M529.5 477.1h0M531.3 477.6h0M533.2 478.2h0" stroke-width="0.9"/>
<path d="M535 482.3h0M536.9 483h0M538.8 484h0M540.6 485.2h0M542.5 485.7h0M544.3 485.6h0M546.2 485.4h0M548.1 484.9h0M549.9 484.3h0M551.8 483.6h0M553.6 483.5h0M555.5 484.2h0M557.4 485.2h0M559.2 486h0M561.1 486.2h0M562.9 486h0M564.8 485.3h0M566.7 484.4h0M568.5 483.6h0M570.4 482.9h0M572.2 482.3h0M574.1 482h0M576 482.4h0M577.8 483h0M579.7 483.3h0M581.5 483.7h0M583.4 484h0" stroke-width="1.0"/>
<path d="M490.4 488.5h0M492.3 488.6h0M494.1 488.6h0M496 488.5h0M497.8 488.1h0M499.7 487.5h0M501.6 486.9h0M503.4 486.5h0M505.3 486.9h0M507.1 487.8h0M509 488.6h0M510.9 489.3h0M512.7 490h0M514.6 490.7h0M516.4 491.3h0M518.3 491.7h0M520.2 491.7h0M522 491.1h0M523.9 490.1h0M525.7 488.9h0M527.6 487.5h0M529.5 487h0M531.3 487.9h0M533.2 488.3h0" stroke-width="0.9"/>
<path d="M535 488.6h0M536.9 489.2h0M538.8 489.9h0M540.6 490.9h0M542.5 492h0M544.3 492.5h0M546.2 492.4h0M548.1 492.3h0M549.9 492.3h0M551.8 492.3h0M553.6 492.3h0M555.5 492.3h0M557.4 492.4h0M559.2 492.6h0M561.1 493.2h0M562.9 493.9h0M564.8 491.2h0M566.7 488.4h0M568.5 488h0M570.4 488h0M572.2 487.7h0M574.1 487.5h0M576 487.6h0M577.8 488.2h0M579.7 488.7h0M581.5 489.1h0M583.4 489.5h0" stroke-width="1.2"/>
<path d="M490.4 498.2h0M492.3 498h0M494.1 497.7h0M496 497.1h0M497.8 495.9h0M499.7 494.4h0M501.6 493.1h0M503.4 492.1h0M505.3 491.6h0M507.1 491.6h0M509 492h0M510.9 493h0M512.7 494.2h0M514.6 495h0M516.4 495.6h0M518.3 496.3h0M520.2 496.9h0M522 497.4h0M523.9 497.8h0M525.7 497.7h0M527.6 497.3h0M529.5 496.7h0M531.3 496h0M533.2 496.1h0M535 497h0M536.9 498.2h0M538.8 499.6h0M540.6 501h0M542.5 501.2h0M544.3 500.8h0M546.2 500.6h0M548.1 500.6h0M549.9 500.6h0M551.8 500.6h0M553.6 500.6h0M555.5 500.6h0M557.4 500.6h0M559.2 500.9h0M561.1 501.4h0M562.9 501.3h0M564.8 500.6h0M566.7 499.6h0M568.5 498.3h0M570.4 497.3h0M572.2 496.6h0M574.1 496.1h0M576 496.1h0M577.8 496.6h0M579.7 497.2h0M581.5 497.6h0M583.4 498h0" stroke-width="0.9"/>
<path d="M531.3 495.8h0M533.2 496.3h0M535 497h0M536.9 498.2h0M538.8 499.6h0M540.6 501h0M542.5 501.2h0M544.3 500.8h0M546.2 500.6h0M548.1 500.6h0M549.9 500.6h0M551.8 500.6h0M553.6 500.6h0M555.5 500.6h0M557.4 500.6h0" stroke-width="1.5"/>
<path d="M490.4 503.5h0M492.3 503.3h0M494.1 503.1h0M496 502.9h0M497.8 502.6h0M499.7 501.9h0M501.6 501.2h0M503.4 500.7h0M505.3 500.2h0M507.1 499.8h0M509 499.6h0M510.9 499.7h0M512.7 500.2h0M514.6 500.7h0M516.4 500.8h0M518.3 501.2h0M520.2 502.4h0M522 503.6h0M523.9 504.2h0" stroke-width="0.9"/>
<path d="M583.4 402.2 584.3 403.1 585.2 404.1 586 405.2 586.9 406.6 587.8 408.2 588.7 409.8 589.5 411.6 590.4 413.4 591.3 415.2 592.2 416.9 593 418.4 593.9 419.8 594.8 420.7 595.7 421.2 596.5 421.4 597.4 421.5 598.3 421.5 599.2 421.4 600 421.2 600.9 420.7 601.8 419.6 602.7 418.1 603.5 416.6 604.4 415 605.3 413.4 606.2 411.6 607.1 409.9 607.9 408.2 608.8 406.8 609.7 405.4 610.6 404.1 611.4 403.1 612.3 402.5 613.2 402.2 614.1 402.4 614.9 403 615.8 403.8 616.7 404.6 617.6 405.6 618.4 406.7 619.3 407.8 620.2 408.8 621.1 409.8 621.9 410.6 622.8 411.1 623.7 411.6 624.6 412 625.4 412.5 626.3 412.9 627.2 413.2 628.2 413.6 629.3 414 630.4 414.3 631.4 414.7 632.5 415 633.5 415.3 634.6 415.5 635.6 415.6 636.7 415.2 637.7 414.7 638.8 414 639.8 413.3 640.9 412.6 641.9 412.1 643 411.4 644 411.1 645.1 411.3 646.1 411.6 647.2 412.1 648.2 412.5 649.2 413 650.3 413.5 651.4 414 652.4 414.5 653.5 414.9 654.5 415.3 655.6 415.6 656.6 415.5 657.7 415.2 658.7 414.9 659.8 414.6 660.8 414.4 661.9 414.1" stroke-width="2.13"/>
<path d="M662.9 414.3 664 414.5 665 414.7 666.1 414.9 667.1 415.2 668.2 415.5 669.2 415.6 670.2 415.4 671.3 415 672.4 414.5 673.4 414.1 674.5 413.8 675.5 413.3 676.6 412.8 677.6 412.2 678.7 411.7 679.7 411.1" stroke-width="1.0"/>
<path d="M583.4 414.9 584.3 415.5 585.2 416.1 586 416.8 586.9 417.4 587.8 418.1 588.7 418.8 589.5 419.6 590.4 420.4 591.3 421.1 592.2 421.8 593 422.5 593.9 423.1 594.8 423.7 595.7 424.3 596.5 424.9 597.4 425.3 598.3 425.2 599.2 424.6 600 423.8 600.9 423.1 601.8 422.4 602.7 421.7 603.5 421 604.4 420.3 605.3 419.7 606.2 419.1 607.1 418.5 607.9 417.8 608.8 417.1 609.7 416.5 610.6 416 611.4 415.5 612.3 415 613.2 414.6 614.1 414.1 614.9 413.6 615.8 413.4 616.7 413.7 617.6 414.3 618.4 415.1 619.3 416.2" stroke-width="1.97"/>
<path d="M620.2 418.3h0M621.1 420.7h0M621.9 422.8h0" stroke-width="1.0"/>
<path d="M622.8 424.4 623.7 425.7 624.6 426.8 625.4 427.9 626.3 428.3 627.2 428.1 628.2 427.6 629.3 426.5 630.4 424.6 631.4 422.5 632.5 421.5 633.5 422.5 634.6 423.7 635.6 424.4 636.7 424.5 637.7 423.8 638.8 422.7 639.8 421.7 640.9 420.8 641.9 419.8" stroke-width="2.13"/>
<path d="M643 419.6 644 420.4 645.1 421.2 646.1 421.9 647.2 422.6 648.2 423 649.2 423.1 650.3 422.7 651.4 422.3 652.4 422 653.5 421.6 654.5 421.6 655.6 422.4 656.6 423.6 657.7 424.6 658.7 425.7 659.8 426.6 660.8 426.7M661.9 425.4h0M662.9 424h0M664 422.8 665 422.3 666.1 422.6 667.1 423.2 668.2 423.6 669.2 423.8 670.2 423.6 671.3 423.3 672.4 422.9 673.4 422.5 674.5 422 675.5 421.5 676.6 421 677.6 420.5 678.7 419.9 679.7 419.3" stroke-width="1.0"/>
<path d="M583.4 427.5 584.3 427.4 585.2 427.2 586 427 586.9 426.6 587.8 426.2 588.7 426 589.5 426.2 590.4 426.7 591.3 427.5 592.2 428.3 593 429.3M593.9 430.7h0M594.8 432.6h0M595.7 434.6 596.5 435.8 597.4 435.8 598.3 435.6 599.2 435.3 600 434.8 600.9 434.1 601.8 432.9M602.7 431.5h0M603.5 430.1h0M604.4 428.6 605.3 427.5 606.2 427 607.1 426.7 607.9 426.5 608.8 426.3 609.7 426.2 610.6 426.1 611.4 426 612.3 426 613.2 426.1 614.1 426.3 614.9 426.4 615.8 426.5 616.7 426.6 617.6 427 618.4 427.7 619.3 428.6 620.2 429.5 621.1 430.5 621.9 431.5 622.8 432.8M623.7 434.2h0M624.6 435.6 625.4 436.2 626.3 436.6 627.2 437" stroke-width="1.2"/>
<path d="M628.2 436.9 629.3 436.3 630.4 435.8 631.4 435.1 632.5 435 633.5 435.1 634.6 435.4 635.6 435.6 636.7 435.9 637.7 436.1 638.8 436.4 639.8 436.5 640.9 436.4 641.9 436.2 643 436 644 435.9 645.1 435.8 646.1 435.7 647.2 435.7 648.2 435.9 649.2 436.1 650.3 436.4 651.4 436.7 652.4 436.9 653.5 437.1 654.5 437.2 655.6 437 656.6 436.7 657.7 436.3 658.7 436 659.8 435.6 660.8 435.2 661.9 435 662.9 435.1 664 435.4 665 435.8 666.1 436.2 667.1 436.6 668.2 437 669.2 437.2 670.2 437.1 671.3 436.8 672.4 436.5 673.4 436.2 674.5 435.9 675.5 435.7 676.6 435.5 677.6 435.3 678.7 435.2 679.7 435" stroke-width="2.13"/>
<path d="M628.2 442.7 629.3 442 630.4 441.3 631.4 440.5 632.5 440.1 633.5 439.8 634.6 439.7 635.6 439.5 636.7 439.3 637.7 439 638.8 438.8 639.8 438.7 640.9 438.7 641.9 438.8 643 439 644 439.1 645.1 439.2 646.1 439.3 647.2 439.4 648.2 439.5 649.2 439.6 650.3 439.8 651.4 439.9 652.4 440.1 653.5 440.2 654.5 440.2 655.6 439.9 656.6 439.5 657.7 439.1 658.7 438.8 659.8 438.4 660.8 438.1 661.9 438 662.9 438.1 664 438.4 665 438.8 666.1 439.2 667.1 439.6 668.2 440 669.2 440.2 670.2 440 671.3 439.5 672.4 439 673.4 438.6 674.5 438.3 675.5 437.9 676.6 437.6 677.6 437.2 678.7 436.9 679.7 436.5" stroke-width="2.13"/>
<path d="M625.4 447.4 626.3 447.1 627.2 446.9 628.2 446.6 629.3 446.3 630.4 446.1 631.4 446.3 632.5 446.8 633.5 447.3 634.6 447.7 635.6 448.2 636.7 448.4 637.7 448.2 638.8 447.9 639.8 447.5 640.9 447.1 641.9 446.7 643 446.3 644 446.1 645.1 446.3 646.1 446.7 647.2 447.1 648.2 447.5 649.2 447.9 650.3 448.2 651.4 448.4 652.4 448.2 653.5 447.8 654.5 447.3 655.6 446.8 656.6 446.3 657.7 445.7 658.7 445.4 659.8 445.5 660.8 445.8 661.9 446.2 662.9 446.6 664 447 665 447.3 666.1 447.6 667.1 447.6 668.2 447.4 669.2 447.2 670.2 446.9 671.3 446.7 672.4 446.6 673.4 446.4 674.5 446.3 675.5 446.1 676.6 445.8 677.6 445.6 678.7 445.3 679.7 445" stroke-width="2.13"/>
<path d="M619.3 457.3 620.2 458.1 621.1 458.7 621.9 458.9 622.8 458.6 623.7 458.1 624.6 457.5 625.4 457.1 626.3 456.6 627.2 456.1 628.2 455.6 629.3 455.1 630.4 454.6 631.4 454.1 632.5 453.5 633.5 453 634.6 452.6 635.6 452.3 636.7 451.9 637.7 451.6 638.8 451.2 639.8 450.8 640.9 450.4 641.9 450.1 643 450 644 450.1 645.1 450.4 646.1 450.7 647.2 451 648.2 451.4 649.2 451.7 650.3 452 651.4 452.2 652.4 452.2 653.5 452 654.5 451.8 655.6 451.6 656.6 451.4 657.7 451.1 658.7 450.9 659.8 450.7 660.8 450.7 661.9 450.9 662.9 451.2 664 451.6 665 451.9 666.1 452.2 667.1 452.6 668.2 452.9 669.2 453 670.2 452.8 671.3 452.4 672.4 452 673.4 451.5 674.5 451 675.5 450.6 676.6 450.3 677.6 449.9 678.7 449.6 679.7 449.2" stroke-width="2.13"/>
<path d="M621.9 455.3 622.8 455.6 623.7 456 624.6 456.3 625.4 456.6 626.3 457 627.2 457.3 628.2 457.6 629.3 457.9 630.4 458.1 631.4 458.5 632.5 458.8 633.5 458.9 634.6 458.6 635.6 458 636.7 457.4 637.7 456.7 638.8 456.1 639.8 455.9 640.9 456.1 641.9 456.5 643 456.9 644 457.2 645.1 457.6 646.1 458 647.2 458.2 648.2 458.4 649.2 458.4 650.3 458.5 651.4 458.6 652.4 458.7 653.5 458.9 654.5 458.9 655.6 458.8 656.6 458.6 657.7 458.4 658.7 458.2 659.8 458.1 660.8 457.9 661.9 457.7 662.9 457.5 664 457.2 665 456.9 666.1 456.4 667.1 456 668.2 455.7 669.2 455.2 670.2 454.8 671.3 454.4 672.4 453.9 673.4 453.5 674.5 453 675.5 452.6 676.6 452.2 677.6 451.8 678.7 451.4 679.7 451" stroke-width="2.13"/>
<path d="M621.9 466.5 622.8 466.9 623.7 467.4 624.6 467.8 625.4 468.3 626.3 468.9 627.2 469.2 628.2 469.2 629.3 468.6 630.4 467.9 631.4 467.4 632.5 467 633.5 466.5 634.6 465.8 635.6 465.2 636.7 464.5 637.7 463.7 638.8 463 639.8 462.5 640.9 462.2 641.9 462 643 461.9 644 461.6 645.1 461.4 646.1 461.2 647.2 461.1 648.2 461.2 649.2 461.5 650.3 461.7 651.4 461.9 652.4 462.2 653.5 462.4 654.5 462.6 655.6 462.7 656.6 462.8 657.7 462.9 658.7 463 659.8 463.1 660.8 463.2 661.9 463.3 662.9 463.4 664 463.4 665 463.2 666.1 463 667.1 462.7 668.2 462.5 669.2 462.4 670.2 462.2 671.3 462.1 672.4 461.9 673.4 461.7 674.5 461.5 675.5 461.3 676.6 461.1 677.6 460.9 678.7 460.7 679.7 460.5" stroke-width="2.13"/>
<path d="M621.9 469.4 622.8 469.8 623.7 470.1 624.6 470.5 625.4 470.8 626.3 471.1 627.2 471.4 628.2 472 629.3 472.8 630.4 473.6 631.4 474.5 632.5 475.5 633.5 476 634.6 475.6 635.6 474.7 636.7 473.8 637.7 472.9 638.8 472.1 639.8 471.5 640.9 471.1 641.9 470.9 643 470.6 644 470.2 645.1 469.8 646.1 469.4 647.2 469.3 648.2 469.5 649.2 469.9 650.3 470.4 651.4 470.7 652.4 471.2 653.5 471.5 654.5 471.6 655.6 471.2 656.6 470.5 657.7 469.9 658.7 469.2 659.8 468.7 660.8 468.7 661.9 469.4 662.9 470.4 664 471.2 665 472.1 666.1 472.9 667.1 473.4 668.2 473.6 669.2 473.8 670.2 474.2 671.3 474.5 672.4 474.5 673.4 474.4 674.5 474.2 675.5 473.9 676.6 473.7 677.6 473.5 678.7 473.2 679.7 473" stroke-width="2.13"/>
<path d="M613.2 483.3 614.1 483 614.9 482.6 615.8 482.3 616.7 481.9 617.6 481.6 618.4 481.3 619.3 480.9 620.2 480.5 621.1 480.1 621.9 479.7 622.8 479.2 623.7 478.8 624.6 478.4 625.4 477.9 626.3 477.5 627.2 477 628.2 476.5 629.3 475.9 630.4 475.4 631.4 475.1 632.5 475 633.5 474.9 634.6 474.7 635.6 474.5 636.7 474.5 637.7 474.8 638.8 475.2 639.8 475.6 640.9 475.9 641.9 476.3 643 476.6 644 477 645.1 477.3 646.1 477.6 647.2 477.9 648.2 478.2 649.2 478.5 650.3 478.6 651.4 478.8 652.4 479 653.5 479.2 654.5 479.5 655.6 480 656.6 480.7 657.7 481.3 658.7 482 659.8 482.5 660.8 482.7 661.9 482.4 662.9 481.5 664 480.9 665 480.3 666.1 479.9 667.1 479.7 668.2 479.6 669.2 479.5 670.2 479.4 671.3 479.4 672.4 479.3 673.4 479.2 674.5 479.1 675.5 479 676.6 478.8 677.6 478.5 678.7 478.3 679.7 478" stroke-width="2.13"/>
<path d="M619.3 486.3 620.2 485.9 621.1 485.5 621.9 485.2 622.8 484.9 623.7 484.5 624.6 484.2 625.4 484 626.3 483.7 627.2 483.5 628.2 483.2 629.3 483 630.4 482.7 631.4 482.6 632.5 482.5 633.5 482.4 634.6 482.3 635.6 482.2 636.7 482.1 637.7 482.1 638.8 482 639.8 482 640.9 482.2 641.9 482.4 643 482.6 644 482.9 645.1 483.2 646.1 483.4 647.2 483.4 648.2 483.1 649.2 482.7 650.3 482.2 651.4 481.9 652.4 481.5 653.5 481.3 654.5 481.2 655.6 481.4 656.6 481.7 657.7 482.1 658.7 482.4 659.8 482.7 660.8 483 661.9 483.4 662.9 483.9 664 484.6 665 485.2 666.1 485.6 667.1 485.7 668.2 485.4 669.2 484.8 670.2 484.4 671.3 484.1 672.4 483.7 673.4 483.3 674.5 483 675.5 482.6 676.6 482.3 677.6 481.9 678.7 481.6 679.7 481.2" stroke-width="2.13"/>
<path d="M625.4 493 626.3 492.8 627.2 492.6 628.2 492.4 629.3 492.1 630.4 491.8 631.4 491.3 632.5 490.8 633.5 490.3 634.6 489.7 635.6 489.2 636.7 488.6 637.7 488 638.8 487.5 639.8 487.1 640.9 486.9 641.9 486.9 643 486.8 644 486.7 645.1 486.6 646.1 486.5 647.2 486.5 648.2 486.7 649.2 486.9 650.3 487.1 651.4 487.4 652.4 487.8 653.5 488.3 654.5 488.9 655.6 489.5 656.6 490.4 657.7 491.6 658.7 492.7 659.8 494.1 660.8 495.5 661.9 496.1 662.9 495.6 664 494.4 665 493.1 666.1 491.9 667.1 490.7 668.2 489.6 669.2 488.8 670.2 488.3 671.3 488.1 672.4 488.1 673.4 487.9 674.5 487.8 675.5 487.7 676.6 487.6 677.6 487.4 678.7 487.3 679.7 487.2" stroke-width="2.13"/>
<path d="M628.2 493.7 629.3 493.3 630.4 492.9 631.4 492.5 632.5 492.1 633.5 491.7 634.6 491.4 635.6 491.2 636.7 490.9 637.7 490.7 638.8 490.6 639.8 490.5 640.9 490.5 641.9 490.6 643 490.8 644 491 645.1 491.3 646.1 491.5 647.2 491.8 648.2 492 649.2 492.3 650.3 492.6 651.4 492.8 652.4 493.1 653.5 493.4 654.5 493.8 655.6 494.1 656.6 494.3 657.7 494.5 658.7 494.5 659.8 494.4 660.8 494.3 661.9 494 662.9 493.8 664 493.5 665 493.2 666.1 492.8 667.1 492.4 668.2 492 669.2 491.7 670.2 491.5 671.3 491.3 672.4 491.2 673.4 491 674.5 490.9 675.5 490.9 676.6 490.8 677.6 490.7 678.7 490.6 679.7 490.5" stroke-width="1.97"/>
<path d="M628.2 501.9 629.3 501.7 630.4 501.4 631.4 501.1 632.5 500.9 633.5 500.6 634.6 500.3 635.6 500.1 636.7 499.9 637.7 499.8 638.8 499.6 639.8 499.6 640.9 499.5 641.9 499.5 643 499.5 644 499.6 645.1 499.7 646.1 499.9 647.2 500.1 648.2 500.2 649.2 500.4 650.3 500.5 651.4 500.6 652.4 500.7 653.5 500.8 654.5 500.9 655.6 501 656.6 501.1 657.7 501.2 658.7 501.3 659.8 501.4 660.8 501.5 661.9 501.5 662.9 501.4 664 501.3 665 501.1 666.1 500.8 667.1 500.6 668.2 500.5 669.2 500.4 670.2 500.3 671.3 500.2 672.4 500.1 673.4 500 674.5 500 675.5 499.9 676.6 499.8 677.6 499.7 678.7 499.6 679.7 499.5" stroke-width="1.97"/>
<path d="M650.3 504.9 651.4 504.5 652.4 504.1 653.5 503.8 654.5 503.6 655.6 503.5 656.6 503.6 657.7 503.9 658.7 504.1 659.8 504.4" stroke-width="2.13"/>
<path d="M670.2 504.4 671.3 504.1 672.4 503.8 673.4 503.5 674.5 503.1 675.5 502.9 676.6 502.6 677.6 502.4 678.7 502.2 679.7 502" stroke-width="2.13"/>
<path d="M621.9 457.5 622.8 456.9 623.7 456.2 624.6 455.6 625.4 455 626.3 454.4 627.2 453.8 628.2 453 629.3 452.2 630.4 451.4 631.4 450.8 632.5 450.1 633.5 449.6 634.6 449.2 635.6 449 636.7 448.8 637.7 448.6 638.8 448.5 639.8 448.3 640.9 448.2 641.9 448.2 643 448.2 644 448.5 645.1 448.8 646.1 449.2 647.2 449.6 648.2 449.9 649.2 450.4 650.3 450.9 651.4 451.5 652.4 452.2 653.5 453.1 654.5 453.9 655.6 454.8 656.6 455.7 657.7 456.7 658.7 457.4 659.8 457.6 660.8 457.3 661.9 456.6 662.9 455.9 664 455.3 665 454.8 666.1 454.2 667.1 453.7 668.2 453.2 669.2 452.8 670.2 452.3 671.3 451.9 672.4 451.5 673.4 451.2 674.5 450.8 675.5 450.5 676.6 450.2 677.6 449.9 678.7 449.6 679.7 449.3" stroke-width="1.97"/>
<path d="M621.9 453.6 622.8 454.5 623.7 455.4 624.6 456.4 625.4 457.5 626.3 458.7 627.2 459.5 628.2 459.7 629.3 459.3 630.4 458.8 631.4 458.2 632.5 457.9 633.5 457.6 634.6 457.4 635.6 457.2 636.7 456.9 637.7 456.7 638.8 456.4 639.8 456.1 640.9 455.8 641.9 455.6 643 455.5 644 455.6 645.1 455.9 646.1 456.2 647.2 456.5 648.2 456.8 649.2 457.1 650.3 457.4 651.4 457.7 652.4 457.9 653.5 458.1 654.5 458.3 655.6 458.6 656.6 459 657.7 459.4 658.7 459.6 659.8 459.7 660.8 459.5 661.9 459.1 662.9 458.7 664 458.4 665 458.1 666.1 457.9 667.1 457.7 668.2 457.6 669.2 457.5 670.2 457.5 671.3 457.6 672.4 457.6 673.4 457.6 674.5 457.6 675.5 457.6 676.6 457.6 677.6 457.6 678.7 457.6 679.7 457.6" stroke-width="1.97"/>
<path d="M621.9 468 622.8 467.7 623.7 467.4 624.6 467 625.4 466.7 626.3 466.4 627.2 466.1 628.2 465.9 629.3 465.6 630.4 465.4 631.4 465.1 632.5 464.9 633.5 464.5 634.6 464.2 635.6 463.9 636.7 463.9 637.7 464.2 638.8 464.7 639.8 465.2 640.9 465.6 641.9 466 643 466.5 644 466.8 645.1 467 646.1 467 647.2 466.8 648.2 466.6 649.2 466.5 650.3 466.3 651.4 466.1 652.4 466 653.5 466 654.5 466.3 655.6 466.7 656.6 467.2 657.7 467.6 658.7 468.1 659.8 468.7 660.8 469 661.9 469 662.9 468.6 664 467.9 665 467.3 666.1 466.8 667.1 466.3 668.2 466 669.2 465.6 670.2 465.3 671.3 464.9 672.4 464.6 673.4 464.3 674.5 464 675.5 463.7 676.6 463.4 677.6 463.1 678.7 462.8 679.7 462.5" stroke-width="1.97"/>
<path d="M621.9 475 622.8 474.9 623.7 474.7 624.6 474.6 625.4 474.5 626.3 474.5 627.2 474.4 628.2 474.2 629.3 474 630.4 473.7 631.4 473.4 632.5 473.2 633.5 472.9 634.6 472.5 635.6 472.3 636.7 472.3 637.7 472.6 638.8 473 639.8 473.5 640.9 473.9 641.9 474.4 643 474.8 644 475.2 645.1 475.4 646.1 475.4 647.2 475.3 648.2 475.1 649.2 475 650.3 474.8 651.4 474.6 652.4 474.5 653.5 474.5 654.5 474.8 655.6 475.2 656.6 475.7 657.7 476.1 658.7 476.6 659.8 477.1 660.8 477.4 661.9 477.5 662.9 477.2 664 476.7 665 476.2 666.1 475.8 667.1 475.3 668.2 474.8 669.2 474.4 670.2 474.1 671.3 473.9 672.4 473.7 673.4 473.5 674.5 473.3 675.5 473.1 676.6 472.9 677.6 472.7 678.7 472.5 679.7 472.3" stroke-width="1.97"/>
<path d="M621.9 484 622.8 483.7 623.7 483.5 624.6 483.3 625.4 483.2 626.3 483 627.2 482.8 628.2 482.5 629.3 482.1 630.4 481.7 631.4 481.4 632.5 481.1 633.5 480.8 634.6 480.6 635.6 480.4 636.7 480.2 637.7 480.1 638.8 480 639.8 479.8 640.9 479.6 641.9 479.6 643 479.6 644 479.9 645.1 480.2 646.1 480.7 647.2 481.1 648.2 481.5 649.2 482 650.3 482.4 651.4 482.8 652.4 483.1 653.5 483.4 654.5 483.6 655.6 483.9 656.6 484.2 657.7 484.6 658.7 484.8 659.8 484.7 660.8 484.4 661.9 483.9 662.9 483.3 664 482.9 665 482.4 666.1 482 667.1 481.7 668.2 481.4 669.2 481.2 670.2 481 671.3 480.8 672.4 480.6 673.4 480.4 674.5 480.3 675.5 480.1 676.6 480 677.6 479.9 678.7 479.7 679.7 479.6" stroke-width="1.97"/>
<path d="M621.9 488 622.8 488.2 623.7 488.3 624.6 488.5 625.4 488.6 626.3 488.8 627.2 488.9 628.2 489.1 629.3 489.4 630.4 489.6 631.4 489.9 632.5 490.1 633.5 490.5 634.6 490.8 635.6 491 636.7 491.1 637.7 490.9 638.8 490.6 639.8 490.2 640.9 489.9 641.9 489.6 643 489.3 644 489.1 645.1 489 646.1 489 647.2 489.2 648.2 489.4 649.2 489.5 650.3 489.7 651.4 489.9 652.4 490.2 653.5 490.6 654.5 491.2 655.6 491.8 656.6 492.5 657.7 493.1 658.7 493.9 659.8 494.6 660.8 495.1 661.9 495.1 662.9 494.3 664 493 665 492.1 666.1 491.4 667.1 490.8 668.2 490.4 669.2 490.1 670.2 489.9 671.3 489.7 672.4 489.6 673.4 489.5 674.5 489.4 675.5 489.3 676.6 489.2 677.6 489.1 678.7 489.1 679.7 489" stroke-width="1.97"/>
<path d="M621.9 497.5 622.8 497.4 623.7 497.4 624.6 497.3 625.4 497.3 626.3 497.3 627.2 497.3 628.2 497.4 629.3 497.6 630.4 498 631.4 498.3 632.5 498.6 633.5 498.9 634.6 499.1 635.6 499.3 636.7 499.3 637.7 499.2 638.8 499 639.8 498.7 640.9 498.4 641.9 498.2 643 497.8 644 497.6 645.1 497.5 646.1 497.5 647.2 497.6 648.2 497.8 649.2 498.1 650.3 498.4 651.4 498.7 652.4 499.1 653.5 499.4 654.5 499.6 655.6 499.9 656.6 500.1 657.7 500.4 658.7 500.6 659.8 500.9 660.8 501 661.9 500.9 662.9 500.6 664 500.1 665 499.7 666.1 499.3 667.1 499 668.2 498.8 669.2 498.6 670.2 498.5 671.3 498.3 672.4 498.2 673.4 498.1 674.5 498 675.5 497.9 676.6 497.8 677.6 497.7 678.7 497.6 679.7 497.5" stroke-width="1.8"/>
<path d="M583.4 436.8 584.3 437.1 585.2 437.4 586 437.7 586.9 438.1 587.8 438.6 588.7 439.2 589.5 439.9 590.4 440.6 591.3 441.4 592.2 442 593 442.6 593.9 443.1 594.8 443.5 595.7 443.9 596.5 444.3 597.4 444.5 598.3 444.6 599.2 444.5 600 444.3 600.9 444 601.8 443.6 602.7 443.1 603.5 442.7 604.4 442.2 605.3 441.6 606.2 440.9 607.1 440.3 607.9 439.7 608.8 439.3 609.7 439.1 610.6 439.1 611.4 439.2 612.3 439.5 613.2 439.8 614.1 440.2 614.9 440.6 615.8 440.9 616.7 441.4 617.6 441.9 618.4 442.4 619.3 442.8 620.2 443.2 621.1 443.4 621.9 443.6 622.8 443.7 623.7 443.8 624.6 443.8 625.4 443.9 626.3 443.9 627.2 443.8 628.2 443.6" stroke-width="1.2"/>
<path d="M583.4 443.4 584.3 443.4 585.2 443.5 586 443.7 586.9 443.8 587.8 444 588.7 444.2 589.5 444.5 590.4 444.8 591.3 445 592.2 445.2 593 445.3 593.9 445.2 594.8 445 595.7 444.8 596.5 444.4 597.4 444 598.3 443.6 599.2 443.1 600 442.6 600.9 442.1 601.8 441.6 602.7 441.1 603.5 440.6 604.4 440 605.3 439.4 606.2 439 607.1 438.6 607.9 438.4 608.8 438.4 609.7 438.6 610.6 438.9 611.4 439.3 612.3 439.8 613.2 440.3 614.1 440.9 614.9 441.7 615.8 442.6 616.7 443.6 617.6 444.6 618.4 445.5 619.3 446.5 620.2 447.5 621.1 448.3 621.9 448.8 622.8 448.7 623.7 448.1 624.6 447.5 625.4 447 626.3 446.4" stroke-width="1.2"/>
<path d="M583.4 450.1 584.3 450.2 585.2 450.2 586 450.4 586.9 450.5 587.8 450.8 588.7 451.2 589.5 451.6 590.4 452.1 591.3 452.6 592.2 453.1 593 453.6 593.9 454.1 594.8 454.6 595.7 455.2 596.5 455.7 597.4 456 598.3 456.2 599.2 456.1 600 455.8 600.9 455.3 601.8 454.8 602.7 454.2 603.5 453.7 604.4 453.2 605.3 452.7 606.2 452.2 607.1 451.8 607.9 451.3 608.8 450.9 609.7 450.6 610.6 450.4 611.4 450.1 612.3 450 613.2 449.9 614.1 449.9 614.9 450 615.8 450.4 616.7 450.9 617.6 451.6 618.4 452.4 619.3 453.2 620.2 454.2 621.1 455.3 621.9 456.2 622.8 456.8 623.7 457 624.6 456.8 625.4 456.4 626.3 455.9" stroke-width="1.2"/>
<path d="M583.4 459.2 584.3 459.4 585.2 459.5 586 459.6 586.9 459.7 587.8 459.5 588.7 459 589.5 458.3 590.4 457.5 591.3 457 592.2 456.9 593 457.3 593.9 457.8 594.8 458.4 595.7 458.9 596.5 459.4 597.4 460 598.3 460.5 599.2 460.9 600 461 600.9 460.6 601.8 460 602.7 459.3 603.5 459 604.4 458.9 605.3 459.1 606.2 459.4 607.1 459.7 607.9 460 608.8 460.2 609.7 460.3 610.6 460.2 611.4 459.9 612.3 459.6 613.2 459.3 614.1 459 614.9 458.9 615.8 458.9 616.7 458.9 617.6 459.1 618.4 459.4 619.3 459.8 620.2 460.5 621.1 461.4 621.9 462.1 622.8 462.4 623.7 462.2 624.6 461.5 625.4 460.7 626.3 459.7" stroke-width="1.3"/>
<path d="M583.4 464.1 584.3 463.9 585.2 463.8 586 463.7 586.9 463.7 587.8 463.8 588.7 464 589.5 464.4 590.4 464.9 591.3 465.3 592.2 465.7 593 465.8 593.9 465.7 594.8 465.5 595.7 465.1 596.5 464.8 597.4 464.5 598.3 464.4 599.2 464.5 600 464.7 600.9 465 601.8 465.3 602.7 465.6 603.5 465.8 604.4 465.8 605.3 465.6 606.2 465.4 607.1 465.1 607.9 464.8 608.8 464.5 609.7 464.3 610.6 464.2 611.4 464 612.3 463.9 613.2 463.8 614.1 463.7 614.9 463.7 615.8 463.7 616.7 463.8 617.6 463.9 618.4 464.2 619.3 464.7 620.2 465.5 621.1 466.4 621.9 467.2 622.8 467.7 623.7 467.8 624.6 467.5 625.4 467 626.3 466.5" stroke-width="1.3"/>
<path d="M583.4 471.6 584.3 471.9 585.2 472.2 586 472.4 586.9 472.5 587.8 472.6 588.7 472.5 589.5 472.3 590.4 471.9 591.3 471.6 592.2 471.3 593 470.9 593.9 470.4 594.8 470.1 595.7 469.9 596.5 470 597.4 470.4 598.3 470.8 599.2 471.1 600 471.2 600.9 471.1 601.8 471 602.7 470.8 603.5 470.6 604.4 470.6 605.3 470.6 606.2 470.8 607.1 471.1 607.9 471.4 608.8 471.8 609.7 472.2 610.6 472.5 611.4 472.9 612.3 473.2 613.2 473.6 614.1 473.9 614.9 474.2 615.8 474.6 616.7 474.9 617.6 475.3 618.4 475.6 619.3 475.9 620.2 476 621.1 475.9 621.9 475.8 622.8 475.6 623.7 475.3 624.6 475.1 625.4 474.8 626.3 474.6 627.2 474.3" stroke-width="1.3"/>
<path d="M583.4 474.5 584.3 474.5 585.2 474.4 586 474.5 586.9 474.7 587.8 475 588.7 475.4 589.5 475.7 590.4 476.1 591.3 476.5 592.2 477 593 477.4 593.9 477.8 594.8 478 595.7 478.1 596.5 477.9 597.4 477.5 598.3 477 599.2 476.4 600 475.9 600.9 475.4 601.8 475 602.7 474.5 603.5 474.1 604.4 473.8 605.3 473.5 606.2 473.3 607.1 473.3 607.9 473.5 608.8 473.8 609.7 474.2 610.6 474.6 611.4 475.2 612.3 475.7 613.2 476.3 614.1 477 614.9 477.8 615.8 478.5 616.7 479.3 617.6 480.1 618.4 480.9 619.3 481.9 620.2 482.2 621.1 481.8 621.9 481.1 622.8 480.2 623.7 479.4 624.6 478.7 625.4 478.1 626.3 477.6 627.2 477.2 628.2 476.6" stroke-width="1.3"/>
<path d="M583.4 479.3 584.3 479.2 585.2 479.2 586 479.1 586.9 479.1 587.8 479.2 588.7 479.5 589.5 479.8 590.4 480.1 591.3 480.4 592.2 480.7 593 480.8 593.9 480.8 594.8 480.8 595.7 480.6 596.5 480.5 597.4 480.5 598.3 480.5 599.2 480.7 600 480.9 600.9 481.3 601.8 481.6 602.7 481.9 603.5 482.1 604.4 482.2 605.3 482.2 606.2 482 607.1 481.9 607.9 481.8 608.8 481.7 609.7 481.9 610.6 482.2 611.4 482.7 612.3 483.2 613.2 483.7 614.1 484.1 614.9 484.2 615.8 484.1 616.7 483.8 617.6 483.4 618.4 483 619.3 482.6 620.2 482.2 621.1 481.9 621.9 481.7 622.8 481.4 623.7 481.1 624.6 480.9 625.4 480.6 626.3 480.4 627.2 480.2" stroke-width="1.3"/>
<path d="M583.4 483.3 584.3 483.2 585.2 483.1 586 483.1 586.9 483.1 587.8 483.3 588.7 483.5 589.5 483.9 590.4 484.3 591.3 484.7 592.2 485.1 593 485.4 593.9 485.6 594.8 485.6 595.7 485.3 596.5 484.9 597.4 484.4 598.3 483.9 599.2 483.6 600 483.5 600.9 483.8 601.8 484.4 602.7 485 603.5 485.6 604.4 486.1 605.3 486.3 606.2 486.3 607.1 486 607.9 485.7 608.8 485.4 609.7 485.1 610.6 485 611.4 485.1 612.3 485.5 613.2 485.9 614.1 486.4 614.9 486.8 615.8 487 616.7 486.9 617.6 486.7 618.4 486.3 619.3 485.8 620.2 485.2 621.1 484.8 621.9 484.4 622.8 484.1 623.7 483.9 624.6 483.6 625.4 483.4 626.3 483.2" stroke-width="1.3"/>
<path d="M583.4 488.5 584.3 488.2 585.2 487.9 586 487.7 586.9 487.6 587.8 487.7 588.7 488 589.5 488.6 590.4 489.2 591.3 489.8 592.2 490.3 593 490.4 593.9 490.2 594.8 489.7 595.7 489.1 596.5 488.4 597.4 487.9 598.3 487.6 599.2 487.6 600 487.7 600.9 487.9 601.8 488.2 602.7 488.6 603.5 488.9 604.4 489.2 605.3 489.6 606.2 490 607.1 490.4 607.9 490.8 608.8 491 609.7 491.1 610.6 491 611.4 490.7 612.3 490.3 613.2 490 614.1 489.8 614.9 489.8 615.8 490.1 616.7 490.6 617.6 491.1 618.4 491.7 619.3 492.1 620.2 492.4 621.1 492.4 621.9 492.3 622.8 492.1 623.7 491.8 624.6 491.5 625.4 491.2 626.3 491 627.2 490.7" stroke-width="1.3"/>
<path d="M583.4 494.5 584.3 494.9 585.2 495.3 586 495.6 586.9 495.8 587.8 495.9 588.7 495.7 589.5 495.4 590.4 495 591.3 494.6 592.2 494.2 593 493.7 593.9 493.3 594.8 492.7 595.7 492.2 596.5 491.9 597.4 491.8 598.3 492.1 599.2 492.6 600 493.2 600.9 493.7 601.8 494.3 602.7 494.9 603.5 495.6 604.4 496.2 605.3 496.8 606.2 497.1 607.1 497.2 607.9 497.2 608.8 497.1 609.7 496.8 610.6 496.6 611.4 496.3 612.3 496.1 613.2 495.9 614.1 495.9 614.9 496 615.8 496.1 616.7 496.3 617.6 496.4 618.4 496.5 619.3 496.5 620.2 496.4 621.1 496.2 621.9 496 622.8 495.9 623.7 495.7 624.6 495.5 625.4 495.3 626.3 495.1 627.2 495" stroke-width="1.3"/>
<path d="M583.4 499.5 584.3 499.7 585.2 499.8 586 499.9 586.9 499.9 587.8 499.8 588.7 499.5 589.5 499.1 590.4 498.6 591.3 498.1 592.2 497.9 593 497.9 593.9 498.4 594.8 499.1 595.7 500 596.5 500.9 597.4 501.6 598.3 502 599.2 501.9 600 501.5 600.9 500.9 601.8 500.2 602.7 499.7 603.5 499.3 604.4 499.4 605.3 499.7 606.2 500.2 607.1 500.8 607.9 501.4 608.8 501.8 609.7 502 610.6 502 611.4 501.8 612.3 501.5 613.2 501.1 614.1 500.8 614.9 500.6 615.8 500.3 616.7 500 617.6 499.8 618.4 499.5 619.3 499.4 620.2 499.3 621.1 499.4 621.9 499.5 622.8 499.7 623.7 500 624.6 500.3 625.4 500.5 626.3 500.7 627.2 500.9" stroke-width="1.3"/>
<path d="M445.5 466.8h0M446.7 467.2h0M448 467.3h0M449.2 466.9h0M450.5 466.1h0M451.7 464.5h0M453 462.1h0M454.2 459.9h0M455.5 458.4h0M456.7 457.6h0M458 457.4h0M459.2 457.5h0M460.4 458.2h0M461.7 459.1h0M462.9 459.2h0M464.2 458.5h0M465.4 457.5h0M466.7 456.8h0M467.9 456.3h0M469.2 456h0M470.4 456h0M471.7 456.6h0M472.9 457.5h0M474.2 457.9h0M475.4 457.8h0M476.7 457.4h0M477.9 457.4h0M479.2 458.2h0M480.4 459.3h0M481.7 459.8h0M482.9 459.5h0M484.2 458.7h0M485.4 457.9h0M486.7 457.3h0M487.9 456.7h0M489.2 456.1h0M490.4 455.5h0" stroke-width="0.9"/>
<path d="M454.2 457.1h0M455.5 458.2h0M456.7 458.7h0M458 459.3h0M459.2 460.2h0M460.4 461.5h0M461.7 463h0M462.9 464.2h0M464.2 464.5h0M465.4 463.6h0M466.7 462.2h0M467.9 461.5h0M469.2 461.1h0M470.4 460.9h0M471.7 460.6h0M472.9 460.1h0M474.2 459.8h0M475.4 459.9h0M476.7 460.4h0M477.9 461.1h0M479.2 462h0M480.4 463.4h0M481.7 464.5h0M482.9 465h0M484.2 465.2h0M485.4 465.5h0M486.7 466h0M487.9 466.5h0M489.2 467.1h0M490.4 467.6h0" stroke-width="0.9"/>
<path d="M459.2 473.4h0M460.4 472.3h0M461.7 471.2h0M462.9 470h0M464.2 469h0M465.4 468.3h0M466.7 467.8h0M467.9 467.5h0M469.2 467.3h0M470.4 467.3h0M471.7 467.4h0M472.9 467.5h0M474.2 467.7h0M475.4 468.1h0M476.7 468.8h0M477.9 469.7h0M479.2 470.8h0M480.4 471.8h0M481.7 472.9h0M482.9 473.8h0M484.2 474.6h0M485.4 475.3h0M486.7 475.7h0M487.9 475.8h0M489.2 475.9h0M490.4 476h0" stroke-width="0.9"/>
<path d="M450.5 474.3h0M451.7 475h0M453 475.5h0M454.2 475.5h0M455.5 475.3h0M456.7 475h0M458 474.6h0M459.2 474.1h0M460.4 473.7h0M461.7 473.5h0M462.9 473.4h0M464.2 473.5h0M465.4 474.1h0M466.7 475.2h0M467.9 475.6h0M469.2 475.5h0M470.4 475.2h0M471.7 474.8h0M472.9 474.1h0M474.2 473.4h0M475.4 473.1h0M476.7 473.5h0M477.9 474.6h0M479.2 476.5h0M480.4 478.5h0M481.7 479.6h0M482.9 480.3h0M484.2 480.5h0M485.4 480.5h0M486.7 480.4h0M487.9 480.3h0M489.2 480.1h0M490.4 480h0" stroke-width="0.9"/>
<path d="M453 480.4h0M454.2 479.7h0M455.5 479.1h0M456.7 478.8h0M458 478.5h0M459.2 478.2h0M460.4 477.8h0M461.7 477.5h0M462.9 477.4h0M464.2 477.7h0M465.4 478.1h0M466.7 478.4h0M467.9 478.6h0M469.2 478.7h0M470.4 478.8h0M471.7 478.6h0M472.9 478.4h0M474.2 478.3h0M475.4 478.4h0M476.7 478.6h0M477.9 479.1h0M479.2 479.8h0M480.4 480.8h0M481.7 481.6h0M482.9 482.4h0M484.2 483h0M485.4 483.5h0M486.7 483.7h0M487.9 483.8h0M489.2 483.9h0M490.4 484h0" stroke-width="0.9"/>
<path d="M456.7 484.8h0M458 484.4h0M459.2 484h0M460.4 483.6h0M461.7 483h0M462.9 482.4h0M464.2 481.7h0M465.4 481.3h0M466.7 480.9h0M467.9 480.7h0M469.2 480.7h0M470.4 480.9h0M471.7 481.1h0M472.9 481.4h0M474.2 481.6h0M475.4 482h0M476.7 482.3h0M477.9 482.8h0M479.2 483.3h0M480.4 483.8h0M481.7 484.5h0M482.9 485.1h0M484.2 485.5h0M485.4 485.9h0M486.7 486.2h0M487.9 486.5h0M489.2 486.7h0M490.4 487h0" stroke-width="0.9"/>
<path d="M453 486.9h0M454.2 486.8h0M455.5 486.6h0M456.7 486.4h0M458 486.1h0M459.2 485.7h0M460.4 485.4h0M461.7 485.4h0M462.9 485.5h0M464.2 485.8h0M465.4 486.3h0M466.7 487h0M467.9 487.5h0M469.2 487.7h0M470.4 487.6h0M471.7 487.4h0M472.9 486.9h0M474.2 486.2h0M475.4 485.5h0M476.7 485.4h0M477.9 485.7h0M479.2 486.2h0M480.4 486.7h0M481.7 487.5h0M482.9 488.1h0M484.2 488.5h0M485.4 488.7h0M486.7 488.8h0M487.9 488.9h0M489.2 488.9h0M490.4 489h0" stroke-width="0.9"/>
<path d="M453 490.5h0M454.2 491.1h0M455.5 491.1h0M456.7 490.3h0M458 489.6h0M459.2 489.7h0M460.4 490.9h0M461.7 492.4h0M462.9 493.2h0M464.2 493.4h0M465.4 493.2h0M466.7 493.1h0M467.9 492.9h0M469.2 492.6h0M470.4 492.6h0M471.7 492.9h0M472.9 493.3h0M474.2 493.5h0M475.4 493.2h0M476.7 492.7h0M477.9 492.6h0M479.2 493.6h0M480.4 494.8h0M481.7 495.4h0M482.9 495.8h0M484.2 496h0M485.4 496h0M486.7 495.7h0M487.9 495.3h0M489.2 494.9h0M490.4 494.5h0" stroke-width="0.9"/>
<path d="M453 497.9h0M454.2 497.8h0M455.5 497.8h0M456.7 497.8h0M458 498h0M459.2 498.4h0M460.4 498.8h0M461.7 498.8h0M462.9 498.6h0M464.2 498.3h0M465.4 498.1h0M466.7 497.9h0M467.9 497.8h0M469.2 498h0M470.4 498.4h0M471.7 498.8h0M472.9 498.7h0M474.2 498.2h0M475.4 497.8h0M476.7 498h0M477.9 498.7h0M479.2 499.5h0M480.4 499.9h0M481.7 500.3h0M482.9 500.5h0M484.2 500.5h0M485.4 500.2h0M486.7 499.8h0M487.9 499.4h0M489.2 498.9h0M490.4 498.5h0" stroke-width="0.9"/>
<path d="M455.5 503.4h0M456.7 503.3h0M458 503.1h0M459.2 503h0M460.4 503h0M461.7 503.3h0M462.9 503.6h0M464.2 503.9h0M465.4 504h0M466.7 503.9h0M467.9 503.7h0M469.2 503.5h0M470.4 503.5h0M471.7 503.6h0M472.9 503.8h0M474.2 504h0M475.4 504h0M476.7 503.9h0M477.9 503.7h0M479.2 503.5h0M480.4 503.5h0M481.7 503.8h0M482.9 504.1h0M484.2 504.4h0M485.4 504.5h0M486.7 504.5h0M487.9 504.3h0M489.2 504.2h0M490.4 504h0" stroke-width="0.9"/>
</g>
<rect x="428.0" y="289.3" width="251.7" height="216.1" fill="none" stroke="#555" stroke-width="1"/>
<line x1="425" y1="289.3" x2="428.0" y2="289.3" stroke="#555"/>
<text x="422.3" y="296.7" font-size="21" text-anchor="end" >1.00</text>
<line x1="425" y1="316.3" x2="428.0" y2="316.3" stroke="#555"/>
<text x="422.3" y="323.7" font-size="21" text-anchor="end" >0.75</text>
<line x1="425" y1="343.3" x2="428.0" y2="343.3" stroke="#555"/>
<text x="422.3" y="350.7" font-size="21" text-anchor="end" >0.50</text>
<line x1="425" y1="370.3" x2="428.0" y2="370.3" stroke="#555"/>
<text x="422.3" y="377.7" font-size="21" text-anchor="end" >0.25</text>
<line x1="425" y1="397.4" x2="428.0" y2="397.4" stroke="#555"/>
<text x="422.3" y="404.8" font-size="21" text-anchor="end" >0.00</text>
<line x1="425" y1="424.4" x2="428.0" y2="424.4" stroke="#555"/>
<text x="422.3" y="431.8" font-size="21" text-anchor="end" >-0.25</text>
<line x1="425" y1="451.4" x2="428.0" y2="451.4" stroke="#555"/>
<text x="422.3" y="458.8" font-size="21" text-anchor="end" >-0.50</text>
<line x1="425" y1="478.4" x2="428.0" y2="478.4" stroke="#555"/>
<text x="422.3" y="485.8" font-size="21" text-anchor="end" >-0.75</text>
<line x1="425" y1="505.4" x2="428.0" y2="505.4" stroke="#555"/>
<text x="422.3" y="512.8" font-size="21" text-anchor="end" >-1.00</text>
<line x1="428.0" y1="505.4" x2="428.0" y2="508.4" stroke="#555"/>
<line x1="490.4" y1="505.4" x2="490.4" y2="508.4" stroke="#555"/>
<line x1="583.4" y1="505.4" x2="583.4" y2="508.4" stroke="#555"/>
<line x1="627.2" y1="505.4" x2="627.2" y2="508.4" stroke="#555"/>
<line x1="679.7" y1="505.4" x2="679.7" y2="508.4" stroke="#555"/>
<text x="352.9" y="299.2" font-size="27.5" text-anchor="start" >d</text>
<text x="490.4" y="525.8" font-size="22" text-anchor="middle" >X</text>
<text x="583.4" y="525.8" font-size="22" text-anchor="middle" >W</text>
<text x="627.2" y="525.8" font-size="22" text-anchor="middle" >L</text>
<path d="M426.8 527 V512 H433.3" fill="none" stroke="#111" stroke-width="1.9"/>
<path d="M677.5 527 V512 H683.9" fill="none" stroke="#111" stroke-width="1.9"/>
<text transform="translate(368.8,393.8) rotate(-90)" font-size="25" text-anchor="middle"><tspan font-style="italic">E</tspan> (eV)</text>
</svg></body></html>
